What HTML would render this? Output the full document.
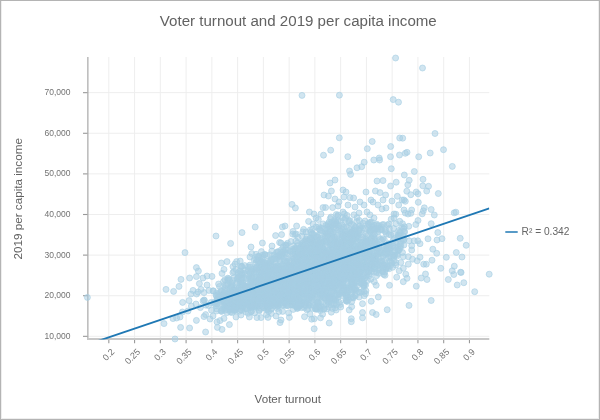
<!DOCTYPE html>
<html><head><meta charset="utf-8"><title>Voter turnout and 2019 per capita income</title>
<style>
html,body{margin:0;padding:0;background:#fff;}
body{width:600px;height:420px;overflow:hidden;font-family:"Liberation Sans",sans-serif;}
#chart{position:absolute;left:0;top:0;width:600px;height:420px;box-sizing:border-box;border:1px solid #b4b4b4;box-shadow:inset 1px 0 0 #eeeeee, inset -1px -1px 0 #eeeeee;}
svg{position:absolute;left:0;top:0;will-change:transform;filter:blur(0.35px);}
svg text{font-family:"Liberation Sans",sans-serif;}
</style></head><body>
<div id="chart"></div>
<svg width="600" height="420" viewBox="0 0 600 420">
<text x="298.3" y="26" text-anchor="middle" font-size="15.1" fill="#626262">Voter turnout and 2019 per capita income</text>
<g><line x1="108.82" y1="57" x2="108.82" y2="338" stroke="#eeeeee" stroke-width="1"/><line x1="134.58" y1="57" x2="134.58" y2="338" stroke="#eeeeee" stroke-width="1"/><line x1="160.34" y1="57" x2="160.34" y2="338" stroke="#eeeeee" stroke-width="1"/><line x1="186.1" y1="57" x2="186.1" y2="338" stroke="#eeeeee" stroke-width="1"/><line x1="211.86" y1="57" x2="211.86" y2="338" stroke="#eeeeee" stroke-width="1"/><line x1="237.61" y1="57" x2="237.61" y2="338" stroke="#eeeeee" stroke-width="1"/><line x1="263.37" y1="57" x2="263.37" y2="338" stroke="#eeeeee" stroke-width="1"/><line x1="289.13" y1="57" x2="289.13" y2="338" stroke="#eeeeee" stroke-width="1"/><line x1="314.89" y1="57" x2="314.89" y2="338" stroke="#eeeeee" stroke-width="1"/><line x1="340.65" y1="57" x2="340.65" y2="338" stroke="#eeeeee" stroke-width="1"/><line x1="366.41" y1="57" x2="366.41" y2="338" stroke="#eeeeee" stroke-width="1"/><line x1="392.17" y1="57" x2="392.17" y2="338" stroke="#eeeeee" stroke-width="1"/><line x1="417.93" y1="57" x2="417.93" y2="338" stroke="#eeeeee" stroke-width="1"/><line x1="443.69" y1="57" x2="443.69" y2="338" stroke="#eeeeee" stroke-width="1"/><line x1="469.45" y1="57" x2="469.45" y2="338" stroke="#eeeeee" stroke-width="1"/><line x1="88" y1="336.33" x2="489.3" y2="336.33" stroke="#eeeeee" stroke-width="1"/><line x1="88" y1="295.72" x2="489.3" y2="295.72" stroke="#eeeeee" stroke-width="1"/><line x1="88" y1="255.11" x2="489.3" y2="255.11" stroke="#eeeeee" stroke-width="1"/><line x1="88" y1="214.5" x2="489.3" y2="214.5" stroke="#eeeeee" stroke-width="1"/><line x1="88" y1="173.89" x2="489.3" y2="173.89" stroke="#eeeeee" stroke-width="1"/><line x1="88" y1="133.28" x2="489.3" y2="133.28" stroke="#eeeeee" stroke-width="1"/><line x1="88" y1="92.67" x2="489.3" y2="92.67" stroke="#eeeeee" stroke-width="1"/></g>
<g><line x1="87.87" y1="57" x2="87.87" y2="339.9" stroke="#a8a8a8" stroke-width="1.2"/><line x1="87.3" y1="338.9" x2="489.3" y2="338.9" stroke="#c8c8c8" stroke-width="2"/><line x1="108.82" y1="339.9" x2="108.82" y2="343.2" stroke="#999999" stroke-width="1.1"/><line x1="134.58" y1="339.9" x2="134.58" y2="343.2" stroke="#999999" stroke-width="1.1"/><line x1="160.34" y1="339.9" x2="160.34" y2="343.2" stroke="#999999" stroke-width="1.1"/><line x1="186.1" y1="339.9" x2="186.1" y2="343.2" stroke="#999999" stroke-width="1.1"/><line x1="211.86" y1="339.9" x2="211.86" y2="343.2" stroke="#999999" stroke-width="1.1"/><line x1="237.61" y1="339.9" x2="237.61" y2="343.2" stroke="#999999" stroke-width="1.1"/><line x1="263.37" y1="339.9" x2="263.37" y2="343.2" stroke="#999999" stroke-width="1.1"/><line x1="289.13" y1="339.9" x2="289.13" y2="343.2" stroke="#999999" stroke-width="1.1"/><line x1="314.89" y1="339.9" x2="314.89" y2="343.2" stroke="#999999" stroke-width="1.1"/><line x1="340.65" y1="339.9" x2="340.65" y2="343.2" stroke="#999999" stroke-width="1.1"/><line x1="366.41" y1="339.9" x2="366.41" y2="343.2" stroke="#999999" stroke-width="1.1"/><line x1="392.17" y1="339.9" x2="392.17" y2="343.2" stroke="#999999" stroke-width="1.1"/><line x1="417.93" y1="339.9" x2="417.93" y2="343.2" stroke="#999999" stroke-width="1.1"/><line x1="443.69" y1="339.9" x2="443.69" y2="343.2" stroke="#999999" stroke-width="1.1"/><line x1="469.45" y1="339.9" x2="469.45" y2="343.2" stroke="#999999" stroke-width="1.1"/><line x1="83" y1="336.33" x2="87.5" y2="336.33" stroke="#999999" stroke-width="1.1"/><line x1="83" y1="295.72" x2="87.5" y2="295.72" stroke="#999999" stroke-width="1.1"/><line x1="83" y1="255.11" x2="87.5" y2="255.11" stroke="#999999" stroke-width="1.1"/><line x1="83" y1="214.5" x2="87.5" y2="214.5" stroke="#999999" stroke-width="1.1"/><line x1="83" y1="173.89" x2="87.5" y2="173.89" stroke="#999999" stroke-width="1.1"/><line x1="83" y1="133.28" x2="87.5" y2="133.28" stroke="#999999" stroke-width="1.1"/><line x1="83" y1="92.67" x2="87.5" y2="92.67" stroke="#999999" stroke-width="1.1"/></g>
<text transform="translate(110.6,348) rotate(-45)" text-anchor="end" font-size="9" fill="#727272" dy="0.7em">0.2</text><text transform="translate(136.4,348) rotate(-45)" text-anchor="end" font-size="9" fill="#727272" dy="0.7em">0.25</text><text transform="translate(162.1,348) rotate(-45)" text-anchor="end" font-size="9" fill="#727272" dy="0.7em">0.3</text><text transform="translate(187.9,348) rotate(-45)" text-anchor="end" font-size="9" fill="#727272" dy="0.7em">0.35</text><text transform="translate(213.7,348) rotate(-45)" text-anchor="end" font-size="9" fill="#727272" dy="0.7em">0.4</text><text transform="translate(239.4,348) rotate(-45)" text-anchor="end" font-size="9" fill="#727272" dy="0.7em">0.45</text><text transform="translate(265.2,348) rotate(-45)" text-anchor="end" font-size="9" fill="#727272" dy="0.7em">0.5</text><text transform="translate(290.9,348) rotate(-45)" text-anchor="end" font-size="9" fill="#727272" dy="0.7em">0.55</text><text transform="translate(316.7,348) rotate(-45)" text-anchor="end" font-size="9" fill="#727272" dy="0.7em">0.6</text><text transform="translate(342.5,348) rotate(-45)" text-anchor="end" font-size="9" fill="#727272" dy="0.7em">0.65</text><text transform="translate(368.2,348) rotate(-45)" text-anchor="end" font-size="9" fill="#727272" dy="0.7em">0.7</text><text transform="translate(394.0,348) rotate(-45)" text-anchor="end" font-size="9" fill="#727272" dy="0.7em">0.75</text><text transform="translate(419.7,348) rotate(-45)" text-anchor="end" font-size="9" fill="#727272" dy="0.7em">0.8</text><text transform="translate(445.5,348) rotate(-45)" text-anchor="end" font-size="9" fill="#727272" dy="0.7em">0.85</text><text transform="translate(471.2,348) rotate(-45)" text-anchor="end" font-size="9" fill="#727272" dy="0.7em">0.9</text><text x="70.5" y="338.7" text-anchor="end" font-size="8.5" fill="#727272">10,000</text><text x="70.5" y="298.1" text-anchor="end" font-size="8.5" fill="#727272">20,000</text><text x="70.5" y="257.5" text-anchor="end" font-size="8.5" fill="#727272">30,000</text><text x="70.5" y="216.9" text-anchor="end" font-size="8.5" fill="#727272">40,000</text><text x="70.5" y="176.3" text-anchor="end" font-size="8.5" fill="#727272">50,000</text><text x="70.5" y="135.7" text-anchor="end" font-size="8.5" fill="#727272">60,000</text><text x="70.5" y="95.1" text-anchor="end" font-size="8.5" fill="#727272">70,000</text>
<text transform="translate(22,198.8) rotate(-90)" text-anchor="middle" font-size="11.7" fill="#616161">2019 per capita income</text>
<text x="287.8" y="403" text-anchor="middle" font-size="11.6" fill="#616161">Voter turnout</text>
<g fill="#a6cee3" fill-opacity="0.52" stroke="#a6cee3" stroke-opacity="0.62" stroke-width="1"><circle cx="224.9" cy="279.7" r="3"/><circle cx="294.4" cy="273.6" r="3"/><circle cx="284.5" cy="298.0" r="3"/><circle cx="319.1" cy="271.5" r="3"/><circle cx="369.9" cy="230.8" r="3"/><circle cx="264.7" cy="270.2" r="3"/><circle cx="236.9" cy="282.8" r="3"/><circle cx="319.7" cy="259.1" r="3"/><circle cx="294.2" cy="289.1" r="3"/><circle cx="357.6" cy="277.6" r="3"/><circle cx="340.3" cy="246.2" r="3"/><circle cx="310.5" cy="291.3" r="3"/><circle cx="343.6" cy="273.8" r="3"/><circle cx="364.3" cy="285.1" r="3"/><circle cx="371.4" cy="238.4" r="3"/><circle cx="321.4" cy="281.9" r="3"/><circle cx="355.7" cy="255.3" r="3"/><circle cx="348.9" cy="248.0" r="3"/><circle cx="343.7" cy="287.9" r="3"/><circle cx="297.7" cy="273.3" r="3"/><circle cx="283.3" cy="250.4" r="3"/><circle cx="284.8" cy="296.0" r="3"/><circle cx="318.6" cy="285.4" r="3"/><circle cx="330.3" cy="218.5" r="3"/><circle cx="285.3" cy="287.1" r="3"/><circle cx="356.5" cy="259.7" r="3"/><circle cx="372.7" cy="228.8" r="3"/><circle cx="279.5" cy="284.8" r="3"/><circle cx="301.9" cy="253.9" r="3"/><circle cx="226.7" cy="304.2" r="3"/><circle cx="334.3" cy="289.5" r="3"/><circle cx="304.8" cy="249.0" r="3"/><circle cx="353.2" cy="265.7" r="3"/><circle cx="347.1" cy="267.0" r="3"/><circle cx="376.4" cy="272.5" r="3"/><circle cx="310.9" cy="280.0" r="3"/><circle cx="320.4" cy="291.9" r="3"/><circle cx="364.0" cy="246.6" r="3"/><circle cx="268.0" cy="275.5" r="3"/><circle cx="316.6" cy="261.6" r="3"/><circle cx="314.0" cy="281.0" r="3"/><circle cx="281.5" cy="293.3" r="3"/><circle cx="364.6" cy="278.3" r="3"/><circle cx="302.2" cy="251.2" r="3"/><circle cx="274.1" cy="267.1" r="3"/><circle cx="296.2" cy="278.4" r="3"/><circle cx="295.2" cy="287.4" r="3"/><circle cx="305.0" cy="269.8" r="3"/><circle cx="314.1" cy="237.8" r="3"/><circle cx="246.0" cy="294.8" r="3"/><circle cx="245.6" cy="286.4" r="3"/><circle cx="287.2" cy="294.5" r="3"/><circle cx="371.5" cy="265.1" r="3"/><circle cx="301.5" cy="243.8" r="3"/><circle cx="320.3" cy="261.9" r="3"/><circle cx="325.8" cy="294.2" r="3"/><circle cx="291.3" cy="286.7" r="3"/><circle cx="330.8" cy="243.8" r="3"/><circle cx="363.0" cy="252.9" r="3"/><circle cx="264.3" cy="276.9" r="3"/><circle cx="333.6" cy="254.9" r="3"/><circle cx="301.9" cy="265.2" r="3"/><circle cx="319.9" cy="281.8" r="3"/><circle cx="240.5" cy="303.4" r="3"/><circle cx="342.0" cy="256.2" r="3"/><circle cx="250.1" cy="306.7" r="3"/><circle cx="388.8" cy="224.0" r="3"/><circle cx="312.6" cy="308.4" r="3"/><circle cx="306.9" cy="236.8" r="3"/><circle cx="258.5" cy="291.0" r="3"/><circle cx="323.6" cy="248.9" r="3"/><circle cx="324.4" cy="241.5" r="3"/><circle cx="370.5" cy="256.9" r="3"/><circle cx="262.2" cy="275.1" r="3"/><circle cx="269.9" cy="276.9" r="3"/><circle cx="352.1" cy="278.3" r="3"/><circle cx="255.9" cy="259.8" r="3"/><circle cx="272.1" cy="288.9" r="3"/><circle cx="251.3" cy="289.4" r="3"/><circle cx="341.0" cy="263.1" r="3"/><circle cx="314.5" cy="271.0" r="3"/><circle cx="319.7" cy="267.0" r="3"/><circle cx="284.9" cy="302.9" r="3"/><circle cx="296.4" cy="281.7" r="3"/><circle cx="252.9" cy="304.6" r="3"/><circle cx="306.2" cy="264.5" r="3"/><circle cx="333.1" cy="284.2" r="3"/><circle cx="293.4" cy="288.9" r="3"/><circle cx="244.7" cy="300.6" r="3"/><circle cx="301.3" cy="276.2" r="3"/><circle cx="248.1" cy="293.6" r="3"/><circle cx="352.6" cy="238.2" r="3"/><circle cx="351.0" cy="233.3" r="3"/><circle cx="259.9" cy="288.9" r="3"/><circle cx="311.8" cy="291.7" r="3"/><circle cx="285.0" cy="253.0" r="3"/><circle cx="250.6" cy="281.9" r="3"/><circle cx="290.9" cy="252.1" r="3"/><circle cx="292.1" cy="297.3" r="3"/><circle cx="301.3" cy="261.6" r="3"/><circle cx="318.8" cy="226.7" r="3"/><circle cx="359.3" cy="275.5" r="3"/><circle cx="294.7" cy="278.0" r="3"/><circle cx="267.8" cy="282.6" r="3"/><circle cx="260.9" cy="299.4" r="3"/><circle cx="317.4" cy="278.6" r="3"/><circle cx="336.0" cy="274.0" r="3"/><circle cx="366.4" cy="255.8" r="3"/><circle cx="302.7" cy="269.7" r="3"/><circle cx="249.9" cy="265.1" r="3"/><circle cx="302.2" cy="281.2" r="3"/><circle cx="306.1" cy="293.6" r="3"/><circle cx="256.9" cy="288.9" r="3"/><circle cx="335.0" cy="243.3" r="3"/><circle cx="318.6" cy="259.4" r="3"/><circle cx="272.6" cy="285.2" r="3"/><circle cx="281.0" cy="279.8" r="3"/><circle cx="248.3" cy="271.2" r="3"/><circle cx="264.4" cy="278.5" r="3"/><circle cx="296.3" cy="272.0" r="3"/><circle cx="343.3" cy="240.8" r="3"/><circle cx="312.8" cy="254.6" r="3"/><circle cx="311.7" cy="275.7" r="3"/><circle cx="346.3" cy="274.4" r="3"/><circle cx="277.4" cy="308.4" r="3"/><circle cx="339.2" cy="266.8" r="3"/><circle cx="305.9" cy="282.9" r="3"/><circle cx="257.9" cy="304.9" r="3"/><circle cx="382.9" cy="238.8" r="3"/><circle cx="281.1" cy="292.2" r="3"/><circle cx="330.7" cy="284.7" r="3"/><circle cx="306.3" cy="272.6" r="3"/><circle cx="271.8" cy="283.8" r="3"/><circle cx="293.9" cy="290.5" r="3"/><circle cx="283.1" cy="294.5" r="3"/><circle cx="334.4" cy="271.9" r="3"/><circle cx="283.7" cy="283.0" r="3"/><circle cx="301.3" cy="292.4" r="3"/><circle cx="357.8" cy="242.7" r="3"/><circle cx="317.6" cy="256.1" r="3"/><circle cx="329.6" cy="270.7" r="3"/><circle cx="404.4" cy="226.8" r="3"/><circle cx="277.7" cy="305.4" r="3"/><circle cx="232.4" cy="309.3" r="3"/><circle cx="336.8" cy="251.4" r="3"/><circle cx="268.6" cy="311.4" r="3"/><circle cx="316.4" cy="249.5" r="3"/><circle cx="291.7" cy="277.0" r="3"/><circle cx="331.4" cy="272.6" r="3"/><circle cx="351.5" cy="255.8" r="3"/><circle cx="316.9" cy="270.0" r="3"/><circle cx="251.4" cy="311.6" r="3"/><circle cx="348.2" cy="244.9" r="3"/><circle cx="314.6" cy="273.5" r="3"/><circle cx="304.7" cy="249.6" r="3"/><circle cx="340.0" cy="286.4" r="3"/><circle cx="235.0" cy="290.3" r="3"/><circle cx="303.2" cy="267.2" r="3"/><circle cx="292.5" cy="293.4" r="3"/><circle cx="254.9" cy="302.9" r="3"/><circle cx="293.0" cy="285.8" r="3"/><circle cx="315.6" cy="250.8" r="3"/><circle cx="384.7" cy="272.1" r="3"/><circle cx="359.7" cy="258.9" r="3"/><circle cx="295.5" cy="297.2" r="3"/><circle cx="342.1" cy="258.6" r="3"/><circle cx="240.9" cy="266.5" r="3"/><circle cx="322.0" cy="276.5" r="3"/><circle cx="324.6" cy="257.0" r="3"/><circle cx="287.0" cy="289.0" r="3"/><circle cx="339.9" cy="231.3" r="3"/><circle cx="365.4" cy="269.0" r="3"/><circle cx="278.2" cy="269.2" r="3"/><circle cx="227.7" cy="284.3" r="3"/><circle cx="259.1" cy="311.1" r="3"/><circle cx="275.2" cy="268.4" r="3"/><circle cx="285.0" cy="271.8" r="3"/><circle cx="325.1" cy="283.3" r="3"/><circle cx="309.2" cy="270.9" r="3"/><circle cx="321.8" cy="274.0" r="3"/><circle cx="279.2" cy="283.6" r="3"/><circle cx="324.7" cy="272.9" r="3"/><circle cx="334.8" cy="268.3" r="3"/><circle cx="357.2" cy="262.2" r="3"/><circle cx="354.2" cy="283.0" r="3"/><circle cx="279.1" cy="265.9" r="3"/><circle cx="245.9" cy="287.4" r="3"/><circle cx="314.6" cy="290.8" r="3"/><circle cx="351.0" cy="235.4" r="3"/><circle cx="288.4" cy="258.7" r="3"/><circle cx="277.9" cy="295.8" r="3"/><circle cx="326.9" cy="262.9" r="3"/><circle cx="314.5" cy="288.0" r="3"/><circle cx="323.9" cy="262.1" r="3"/><circle cx="288.3" cy="265.1" r="3"/><circle cx="370.0" cy="231.6" r="3"/><circle cx="356.3" cy="249.1" r="3"/><circle cx="295.5" cy="299.3" r="3"/><circle cx="268.5" cy="290.6" r="3"/><circle cx="301.5" cy="307.7" r="3"/><circle cx="302.3" cy="245.2" r="3"/><circle cx="227.1" cy="309.4" r="3"/><circle cx="344.4" cy="213.8" r="3"/><circle cx="276.5" cy="294.0" r="3"/><circle cx="221.6" cy="311.4" r="3"/><circle cx="273.4" cy="295.0" r="3"/><circle cx="309.6" cy="289.2" r="3"/><circle cx="386.3" cy="233.7" r="3"/><circle cx="365.8" cy="258.6" r="3"/><circle cx="326.3" cy="257.0" r="3"/><circle cx="327.3" cy="255.9" r="3"/><circle cx="278.7" cy="288.9" r="3"/><circle cx="360.4" cy="278.3" r="3"/><circle cx="265.9" cy="263.0" r="3"/><circle cx="301.4" cy="287.6" r="3"/><circle cx="307.9" cy="254.2" r="3"/><circle cx="324.2" cy="257.2" r="3"/><circle cx="251.9" cy="306.8" r="3"/><circle cx="320.0" cy="291.3" r="3"/><circle cx="303.4" cy="291.2" r="3"/><circle cx="308.3" cy="264.3" r="3"/><circle cx="265.1" cy="290.0" r="3"/><circle cx="296.4" cy="289.1" r="3"/><circle cx="318.4" cy="288.1" r="3"/><circle cx="336.4" cy="268.1" r="3"/><circle cx="376.6" cy="263.8" r="3"/><circle cx="288.9" cy="267.0" r="3"/><circle cx="281.1" cy="299.3" r="3"/><circle cx="343.0" cy="283.2" r="3"/><circle cx="295.5" cy="294.9" r="3"/><circle cx="290.7" cy="270.7" r="3"/><circle cx="343.0" cy="277.9" r="3"/><circle cx="361.3" cy="243.3" r="3"/><circle cx="346.0" cy="288.2" r="3"/><circle cx="334.5" cy="284.8" r="3"/><circle cx="213.3" cy="290.8" r="3"/><circle cx="253.6" cy="286.4" r="3"/><circle cx="296.5" cy="280.7" r="3"/><circle cx="311.1" cy="286.9" r="3"/><circle cx="370.7" cy="229.7" r="3"/><circle cx="299.0" cy="263.1" r="3"/><circle cx="299.8" cy="248.1" r="3"/><circle cx="397.8" cy="241.5" r="3"/><circle cx="282.8" cy="282.1" r="3"/><circle cx="363.8" cy="284.5" r="3"/><circle cx="276.3" cy="268.3" r="3"/><circle cx="260.1" cy="289.5" r="3"/><circle cx="292.5" cy="267.3" r="3"/><circle cx="279.2" cy="293.5" r="3"/><circle cx="287.7" cy="292.4" r="3"/><circle cx="292.7" cy="304.1" r="3"/><circle cx="257.7" cy="285.1" r="3"/><circle cx="386.5" cy="253.3" r="3"/><circle cx="326.8" cy="229.9" r="3"/><circle cx="323.0" cy="290.0" r="3"/><circle cx="280.2" cy="280.8" r="3"/><circle cx="299.3" cy="300.7" r="3"/><circle cx="304.7" cy="290.1" r="3"/><circle cx="362.9" cy="276.7" r="3"/><circle cx="276.8" cy="299.6" r="3"/><circle cx="329.0" cy="222.2" r="3"/><circle cx="290.1" cy="297.0" r="3"/><circle cx="243.4" cy="288.8" r="3"/><circle cx="331.5" cy="271.8" r="3"/><circle cx="264.2" cy="274.2" r="3"/><circle cx="283.9" cy="282.7" r="3"/><circle cx="293.8" cy="294.2" r="3"/><circle cx="258.2" cy="292.0" r="3"/><circle cx="341.2" cy="252.8" r="3"/><circle cx="251.8" cy="253.6" r="3"/><circle cx="242.5" cy="282.6" r="3"/><circle cx="240.9" cy="289.1" r="3"/><circle cx="310.7" cy="262.3" r="3"/><circle cx="270.6" cy="297.0" r="3"/><circle cx="325.9" cy="284.4" r="3"/><circle cx="326.5" cy="279.1" r="3"/><circle cx="349.4" cy="241.2" r="3"/><circle cx="296.5" cy="256.6" r="3"/><circle cx="385.8" cy="230.5" r="3"/><circle cx="312.0" cy="272.6" r="3"/><circle cx="305.0" cy="265.5" r="3"/><circle cx="361.2" cy="248.0" r="3"/><circle cx="312.2" cy="282.4" r="3"/><circle cx="318.3" cy="290.8" r="3"/><circle cx="321.2" cy="279.5" r="3"/><circle cx="302.5" cy="291.0" r="3"/><circle cx="301.9" cy="260.1" r="3"/><circle cx="353.2" cy="250.0" r="3"/><circle cx="247.7" cy="293.2" r="3"/><circle cx="375.3" cy="260.7" r="3"/><circle cx="329.0" cy="280.9" r="3"/><circle cx="363.3" cy="239.2" r="3"/><circle cx="324.9" cy="283.0" r="3"/><circle cx="314.7" cy="274.9" r="3"/><circle cx="227.1" cy="303.2" r="3"/><circle cx="253.4" cy="281.4" r="3"/><circle cx="372.4" cy="254.0" r="3"/><circle cx="285.4" cy="265.6" r="3"/><circle cx="251.7" cy="306.1" r="3"/><circle cx="348.5" cy="275.8" r="3"/><circle cx="252.7" cy="302.6" r="3"/><circle cx="256.4" cy="301.3" r="3"/><circle cx="247.8" cy="303.3" r="3"/><circle cx="229.7" cy="292.7" r="3"/><circle cx="280.4" cy="293.8" r="3"/><circle cx="272.1" cy="289.9" r="3"/><circle cx="284.6" cy="260.6" r="3"/><circle cx="361.1" cy="246.3" r="3"/><circle cx="368.7" cy="271.8" r="3"/><circle cx="350.3" cy="258.7" r="3"/><circle cx="356.9" cy="261.5" r="3"/><circle cx="332.5" cy="234.1" r="3"/><circle cx="311.0" cy="270.5" r="3"/><circle cx="351.9" cy="231.5" r="3"/><circle cx="284.5" cy="302.4" r="3"/><circle cx="329.0" cy="285.8" r="3"/><circle cx="312.9" cy="272.3" r="3"/><circle cx="339.8" cy="254.4" r="3"/><circle cx="379.7" cy="262.6" r="3"/><circle cx="260.9" cy="295.7" r="3"/><circle cx="365.8" cy="249.8" r="3"/><circle cx="265.5" cy="279.1" r="3"/><circle cx="317.8" cy="289.1" r="3"/><circle cx="274.1" cy="258.8" r="3"/><circle cx="273.2" cy="292.5" r="3"/><circle cx="255.1" cy="270.3" r="3"/><circle cx="318.3" cy="283.1" r="3"/><circle cx="284.1" cy="273.0" r="3"/><circle cx="389.0" cy="234.5" r="3"/><circle cx="271.9" cy="290.8" r="3"/><circle cx="264.3" cy="307.7" r="3"/><circle cx="312.7" cy="294.9" r="3"/><circle cx="335.5" cy="271.1" r="3"/><circle cx="274.4" cy="282.4" r="3"/><circle cx="318.2" cy="286.9" r="3"/><circle cx="309.6" cy="284.9" r="3"/><circle cx="346.9" cy="275.9" r="3"/><circle cx="316.2" cy="257.9" r="3"/><circle cx="266.4" cy="267.7" r="3"/><circle cx="313.2" cy="267.6" r="3"/><circle cx="356.2" cy="234.6" r="3"/><circle cx="322.2" cy="247.9" r="3"/><circle cx="245.7" cy="292.4" r="3"/><circle cx="354.6" cy="289.5" r="3"/><circle cx="322.4" cy="253.3" r="3"/><circle cx="302.3" cy="243.1" r="3"/><circle cx="282.8" cy="294.1" r="3"/><circle cx="363.4" cy="285.8" r="3"/><circle cx="329.2" cy="263.3" r="3"/><circle cx="287.8" cy="291.3" r="3"/><circle cx="337.1" cy="251.9" r="3"/><circle cx="337.0" cy="243.4" r="3"/><circle cx="340.4" cy="282.4" r="3"/><circle cx="371.4" cy="261.7" r="3"/><circle cx="280.7" cy="285.8" r="3"/><circle cx="375.0" cy="246.8" r="3"/><circle cx="289.4" cy="289.0" r="3"/><circle cx="336.1" cy="254.1" r="3"/><circle cx="350.4" cy="242.5" r="3"/><circle cx="367.9" cy="247.5" r="3"/><circle cx="373.4" cy="266.8" r="3"/><circle cx="332.5" cy="273.2" r="3"/><circle cx="231.3" cy="292.1" r="3"/><circle cx="268.2" cy="286.5" r="3"/><circle cx="283.0" cy="301.8" r="3"/><circle cx="302.2" cy="281.5" r="3"/><circle cx="302.0" cy="262.4" r="3"/><circle cx="327.9" cy="247.4" r="3"/><circle cx="305.3" cy="258.4" r="3"/><circle cx="347.8" cy="296.9" r="3"/><circle cx="347.0" cy="251.7" r="3"/><circle cx="248.6" cy="294.5" r="3"/><circle cx="402.9" cy="235.3" r="3"/><circle cx="246.6" cy="297.0" r="3"/><circle cx="344.4" cy="232.3" r="3"/><circle cx="255.4" cy="298.2" r="3"/><circle cx="300.7" cy="266.2" r="3"/><circle cx="321.0" cy="301.6" r="3"/><circle cx="304.4" cy="284.8" r="3"/><circle cx="268.2" cy="274.3" r="3"/><circle cx="287.0" cy="268.2" r="3"/><circle cx="387.5" cy="253.7" r="3"/><circle cx="313.8" cy="277.1" r="3"/><circle cx="336.9" cy="270.7" r="3"/><circle cx="267.7" cy="268.5" r="3"/><circle cx="295.6" cy="278.2" r="3"/><circle cx="323.0" cy="296.3" r="3"/><circle cx="376.5" cy="275.7" r="3"/><circle cx="298.1" cy="237.4" r="3"/><circle cx="362.0" cy="269.2" r="3"/><circle cx="258.6" cy="279.3" r="3"/><circle cx="358.2" cy="264.8" r="3"/><circle cx="279.5" cy="285.1" r="3"/><circle cx="256.0" cy="254.3" r="3"/><circle cx="258.9" cy="300.0" r="3"/><circle cx="346.9" cy="259.9" r="3"/><circle cx="266.1" cy="284.8" r="3"/><circle cx="303.7" cy="251.8" r="3"/><circle cx="268.9" cy="301.6" r="3"/><circle cx="267.4" cy="286.4" r="3"/><circle cx="360.3" cy="228.5" r="3"/><circle cx="289.7" cy="277.6" r="3"/><circle cx="303.0" cy="283.5" r="3"/><circle cx="303.1" cy="284.8" r="3"/><circle cx="276.2" cy="299.3" r="3"/><circle cx="230.1" cy="301.2" r="3"/><circle cx="225.3" cy="296.8" r="3"/><circle cx="358.9" cy="272.9" r="3"/><circle cx="262.0" cy="295.0" r="3"/><circle cx="269.9" cy="294.6" r="3"/><circle cx="298.5" cy="289.2" r="3"/><circle cx="274.7" cy="273.8" r="3"/><circle cx="255.2" cy="290.9" r="3"/><circle cx="392.6" cy="245.7" r="3"/><circle cx="335.1" cy="268.9" r="3"/><circle cx="319.3" cy="270.1" r="3"/><circle cx="374.5" cy="268.7" r="3"/><circle cx="249.8" cy="294.5" r="3"/><circle cx="266.3" cy="266.0" r="3"/><circle cx="280.0" cy="297.0" r="3"/><circle cx="257.0" cy="276.8" r="3"/><circle cx="356.8" cy="263.9" r="3"/><circle cx="347.2" cy="262.1" r="3"/><circle cx="324.2" cy="250.4" r="3"/><circle cx="282.8" cy="282.8" r="3"/><circle cx="326.1" cy="252.0" r="3"/><circle cx="316.1" cy="258.5" r="3"/><circle cx="350.7" cy="254.2" r="3"/><circle cx="246.5" cy="302.8" r="3"/><circle cx="270.8" cy="289.8" r="3"/><circle cx="365.1" cy="256.4" r="3"/><circle cx="226.2" cy="291.0" r="3"/><circle cx="241.8" cy="307.6" r="3"/><circle cx="360.0" cy="245.6" r="3"/><circle cx="322.6" cy="253.4" r="3"/><circle cx="268.0" cy="293.3" r="3"/><circle cx="245.5" cy="285.8" r="3"/><circle cx="307.0" cy="250.6" r="3"/><circle cx="259.4" cy="303.0" r="3"/><circle cx="306.2" cy="261.4" r="3"/><circle cx="308.4" cy="252.1" r="3"/><circle cx="218.9" cy="297.9" r="3"/><circle cx="226.0" cy="285.4" r="3"/><circle cx="374.0" cy="225.3" r="3"/><circle cx="314.2" cy="281.4" r="3"/><circle cx="281.6" cy="271.9" r="3"/><circle cx="382.2" cy="224.8" r="3"/><circle cx="268.8" cy="291.8" r="3"/><circle cx="230.6" cy="300.5" r="3"/><circle cx="350.8" cy="238.8" r="3"/><circle cx="300.1" cy="269.7" r="3"/><circle cx="219.5" cy="286.5" r="3"/><circle cx="371.8" cy="271.1" r="3"/><circle cx="330.0" cy="253.2" r="3"/><circle cx="282.9" cy="293.2" r="3"/><circle cx="294.1" cy="289.2" r="3"/><circle cx="284.9" cy="288.4" r="3"/><circle cx="297.7" cy="296.8" r="3"/><circle cx="331.2" cy="230.7" r="3"/><circle cx="297.7" cy="288.6" r="3"/><circle cx="303.8" cy="274.8" r="3"/><circle cx="301.9" cy="270.4" r="3"/><circle cx="337.9" cy="259.8" r="3"/><circle cx="365.7" cy="233.6" r="3"/><circle cx="322.7" cy="281.2" r="3"/><circle cx="336.2" cy="284.1" r="3"/><circle cx="344.2" cy="256.5" r="3"/><circle cx="359.2" cy="220.5" r="3"/><circle cx="317.3" cy="283.0" r="3"/><circle cx="267.6" cy="298.9" r="3"/><circle cx="270.0" cy="254.8" r="3"/><circle cx="244.7" cy="265.6" r="3"/><circle cx="281.9" cy="269.0" r="3"/><circle cx="314.8" cy="246.7" r="3"/><circle cx="306.8" cy="284.2" r="3"/><circle cx="228.9" cy="293.5" r="3"/><circle cx="283.7" cy="279.1" r="3"/><circle cx="286.8" cy="272.1" r="3"/><circle cx="346.3" cy="243.1" r="3"/><circle cx="265.2" cy="301.0" r="3"/><circle cx="304.7" cy="258.5" r="3"/><circle cx="331.1" cy="300.0" r="3"/><circle cx="291.4" cy="268.1" r="3"/><circle cx="272.3" cy="269.3" r="3"/><circle cx="305.9" cy="269.1" r="3"/><circle cx="335.5" cy="286.2" r="3"/><circle cx="250.9" cy="291.7" r="3"/><circle cx="288.6" cy="312.9" r="3"/><circle cx="393.2" cy="246.1" r="3"/><circle cx="271.5" cy="279.3" r="3"/><circle cx="268.2" cy="279.3" r="3"/><circle cx="350.8" cy="287.2" r="3"/><circle cx="288.6" cy="270.6" r="3"/><circle cx="367.1" cy="262.2" r="3"/><circle cx="339.5" cy="275.4" r="3"/><circle cx="355.4" cy="265.8" r="3"/><circle cx="266.9" cy="304.1" r="3"/><circle cx="340.0" cy="258.5" r="3"/><circle cx="262.9" cy="269.9" r="3"/><circle cx="262.6" cy="294.1" r="3"/><circle cx="386.0" cy="269.0" r="3"/><circle cx="304.5" cy="266.1" r="3"/><circle cx="298.7" cy="269.6" r="3"/><circle cx="346.9" cy="241.3" r="3"/><circle cx="343.1" cy="279.0" r="3"/><circle cx="357.0" cy="217.6" r="3"/><circle cx="313.9" cy="252.9" r="3"/><circle cx="354.0" cy="275.3" r="3"/><circle cx="385.8" cy="268.4" r="3"/><circle cx="262.6" cy="256.8" r="3"/><circle cx="336.9" cy="248.4" r="3"/><circle cx="302.6" cy="280.8" r="3"/><circle cx="311.6" cy="295.5" r="3"/><circle cx="289.0" cy="290.1" r="3"/><circle cx="336.9" cy="282.6" r="3"/><circle cx="216.1" cy="295.3" r="3"/><circle cx="287.5" cy="243.3" r="3"/><circle cx="382.8" cy="268.0" r="3"/><circle cx="312.3" cy="273.8" r="3"/><circle cx="301.4" cy="302.8" r="3"/><circle cx="231.7" cy="297.1" r="3"/><circle cx="278.3" cy="282.1" r="3"/><circle cx="349.1" cy="277.7" r="3"/><circle cx="239.2" cy="305.0" r="3"/><circle cx="264.7" cy="294.3" r="3"/><circle cx="318.3" cy="246.7" r="3"/><circle cx="319.0" cy="271.1" r="3"/><circle cx="299.8" cy="259.3" r="3"/><circle cx="316.0" cy="266.9" r="3"/><circle cx="362.6" cy="250.1" r="3"/><circle cx="314.9" cy="291.1" r="3"/><circle cx="369.5" cy="265.9" r="3"/><circle cx="301.4" cy="292.5" r="3"/><circle cx="260.4" cy="293.8" r="3"/><circle cx="306.4" cy="258.4" r="3"/><circle cx="269.5" cy="291.5" r="3"/><circle cx="312.4" cy="288.1" r="3"/><circle cx="297.6" cy="305.5" r="3"/><circle cx="345.6" cy="234.7" r="3"/><circle cx="323.4" cy="301.9" r="3"/><circle cx="378.6" cy="225.8" r="3"/><circle cx="351.6" cy="277.4" r="3"/><circle cx="263.2" cy="289.9" r="3"/><circle cx="287.0" cy="292.3" r="3"/><circle cx="366.9" cy="245.4" r="3"/><circle cx="276.0" cy="290.8" r="3"/><circle cx="364.6" cy="243.9" r="3"/><circle cx="245.5" cy="298.2" r="3"/><circle cx="271.9" cy="293.1" r="3"/><circle cx="347.1" cy="291.4" r="3"/><circle cx="295.1" cy="249.3" r="3"/><circle cx="311.6" cy="287.1" r="3"/><circle cx="356.9" cy="221.4" r="3"/><circle cx="322.0" cy="258.4" r="3"/><circle cx="310.9" cy="269.1" r="3"/><circle cx="258.9" cy="256.5" r="3"/><circle cx="332.7" cy="253.8" r="3"/><circle cx="315.0" cy="254.6" r="3"/><circle cx="282.1" cy="289.9" r="3"/><circle cx="280.8" cy="292.1" r="3"/><circle cx="264.3" cy="262.5" r="3"/><circle cx="340.8" cy="274.1" r="3"/><circle cx="328.4" cy="275.9" r="3"/><circle cx="322.1" cy="294.1" r="3"/><circle cx="343.6" cy="263.3" r="3"/><circle cx="348.8" cy="220.7" r="3"/><circle cx="340.8" cy="221.4" r="3"/><circle cx="285.0" cy="303.0" r="3"/><circle cx="243.1" cy="294.4" r="3"/><circle cx="302.0" cy="236.1" r="3"/><circle cx="383.5" cy="224.5" r="3"/><circle cx="350.1" cy="220.7" r="3"/><circle cx="269.1" cy="263.6" r="3"/><circle cx="300.9" cy="263.3" r="3"/><circle cx="264.1" cy="292.8" r="3"/><circle cx="272.0" cy="298.5" r="3"/><circle cx="398.1" cy="250.7" r="3"/><circle cx="285.1" cy="260.9" r="3"/><circle cx="269.5" cy="273.7" r="3"/><circle cx="367.9" cy="254.0" r="3"/><circle cx="325.2" cy="251.2" r="3"/><circle cx="217.3" cy="299.7" r="3"/><circle cx="372.4" cy="241.3" r="3"/><circle cx="266.8" cy="291.1" r="3"/><circle cx="338.6" cy="264.9" r="3"/><circle cx="252.4" cy="270.8" r="3"/><circle cx="252.5" cy="303.1" r="3"/><circle cx="273.5" cy="288.1" r="3"/><circle cx="390.1" cy="261.2" r="3"/><circle cx="272.8" cy="283.6" r="3"/><circle cx="249.9" cy="295.7" r="3"/><circle cx="307.0" cy="261.2" r="3"/><circle cx="250.3" cy="307.4" r="3"/><circle cx="348.4" cy="255.2" r="3"/><circle cx="324.0" cy="260.2" r="3"/><circle cx="269.7" cy="295.5" r="3"/><circle cx="344.3" cy="249.8" r="3"/><circle cx="255.2" cy="285.2" r="3"/><circle cx="345.9" cy="226.2" r="3"/><circle cx="308.4" cy="251.1" r="3"/><circle cx="335.6" cy="263.8" r="3"/><circle cx="230.9" cy="286.7" r="3"/><circle cx="244.7" cy="298.8" r="3"/><circle cx="324.5" cy="277.9" r="3"/><circle cx="272.3" cy="294.4" r="3"/><circle cx="256.2" cy="267.0" r="3"/><circle cx="254.9" cy="306.4" r="3"/><circle cx="284.2" cy="292.5" r="3"/><circle cx="264.2" cy="272.0" r="3"/><circle cx="305.5" cy="278.9" r="3"/><circle cx="219.5" cy="296.2" r="3"/><circle cx="343.2" cy="275.1" r="3"/><circle cx="336.0" cy="285.2" r="3"/><circle cx="372.2" cy="243.9" r="3"/><circle cx="307.9" cy="282.3" r="3"/><circle cx="370.2" cy="222.6" r="3"/><circle cx="290.8" cy="281.8" r="3"/><circle cx="289.6" cy="279.4" r="3"/><circle cx="322.9" cy="276.6" r="3"/><circle cx="379.2" cy="269.8" r="3"/><circle cx="342.2" cy="257.2" r="3"/><circle cx="327.0" cy="278.5" r="3"/><circle cx="309.0" cy="250.9" r="3"/><circle cx="267.0" cy="293.9" r="3"/><circle cx="260.5" cy="267.4" r="3"/><circle cx="288.6" cy="265.5" r="3"/><circle cx="346.9" cy="295.5" r="3"/><circle cx="350.8" cy="268.9" r="3"/><circle cx="286.6" cy="278.5" r="3"/><circle cx="360.7" cy="242.0" r="3"/><circle cx="228.4" cy="306.9" r="3"/><circle cx="287.5" cy="291.3" r="3"/><circle cx="350.4" cy="266.9" r="3"/><circle cx="374.3" cy="242.5" r="3"/><circle cx="280.3" cy="256.8" r="3"/><circle cx="350.5" cy="263.2" r="3"/><circle cx="284.3" cy="289.8" r="3"/><circle cx="293.3" cy="287.7" r="3"/><circle cx="370.0" cy="214.9" r="3"/><circle cx="294.2" cy="258.7" r="3"/><circle cx="323.4" cy="272.8" r="3"/><circle cx="258.1" cy="299.1" r="3"/><circle cx="251.1" cy="304.9" r="3"/><circle cx="346.4" cy="265.7" r="3"/><circle cx="344.4" cy="256.2" r="3"/><circle cx="353.8" cy="230.6" r="3"/><circle cx="312.2" cy="294.0" r="3"/><circle cx="359.0" cy="251.9" r="3"/><circle cx="345.8" cy="235.5" r="3"/><circle cx="290.7" cy="287.5" r="3"/><circle cx="317.1" cy="263.7" r="3"/><circle cx="300.2" cy="267.7" r="3"/><circle cx="334.3" cy="237.1" r="3"/><circle cx="320.1" cy="246.2" r="3"/><circle cx="244.3" cy="302.6" r="3"/><circle cx="320.3" cy="288.4" r="3"/><circle cx="355.5" cy="228.0" r="3"/><circle cx="277.7" cy="265.9" r="3"/><circle cx="357.2" cy="241.0" r="3"/><circle cx="320.4" cy="291.1" r="3"/><circle cx="322.6" cy="314.2" r="3"/><circle cx="274.8" cy="303.4" r="3"/><circle cx="204.4" cy="300.4" r="3"/><circle cx="265.0" cy="278.3" r="3"/><circle cx="352.0" cy="282.6" r="3"/><circle cx="251.5" cy="289.9" r="3"/><circle cx="305.6" cy="293.6" r="3"/><circle cx="350.7" cy="282.8" r="3"/><circle cx="289.0" cy="270.8" r="3"/><circle cx="304.3" cy="283.9" r="3"/><circle cx="367.8" cy="272.1" r="3"/><circle cx="263.5" cy="296.0" r="3"/><circle cx="331.7" cy="277.3" r="3"/><circle cx="326.5" cy="271.4" r="3"/><circle cx="299.4" cy="306.4" r="3"/><circle cx="242.3" cy="274.8" r="3"/><circle cx="385.3" cy="263.2" r="3"/><circle cx="334.2" cy="299.0" r="3"/><circle cx="347.1" cy="284.4" r="3"/><circle cx="327.2" cy="267.0" r="3"/><circle cx="264.8" cy="296.8" r="3"/><circle cx="269.1" cy="299.8" r="3"/><circle cx="241.8" cy="287.0" r="3"/><circle cx="251.2" cy="311.6" r="3"/><circle cx="334.7" cy="266.5" r="3"/><circle cx="340.8" cy="279.0" r="3"/><circle cx="358.5" cy="274.4" r="3"/><circle cx="270.6" cy="300.4" r="3"/><circle cx="260.3" cy="308.2" r="3"/><circle cx="320.6" cy="271.1" r="3"/><circle cx="258.1" cy="295.3" r="3"/><circle cx="294.9" cy="298.1" r="3"/><circle cx="320.1" cy="272.0" r="3"/><circle cx="303.9" cy="294.1" r="3"/><circle cx="290.2" cy="251.0" r="3"/><circle cx="255.6" cy="306.1" r="3"/><circle cx="375.4" cy="260.4" r="3"/><circle cx="290.5" cy="271.0" r="3"/><circle cx="344.5" cy="219.7" r="3"/><circle cx="259.4" cy="310.1" r="3"/><circle cx="277.9" cy="252.1" r="3"/><circle cx="236.5" cy="306.5" r="3"/><circle cx="253.0" cy="305.8" r="3"/><circle cx="357.0" cy="260.9" r="3"/><circle cx="305.6" cy="287.1" r="3"/><circle cx="267.7" cy="289.3" r="3"/><circle cx="306.6" cy="294.1" r="3"/><circle cx="335.1" cy="252.4" r="3"/><circle cx="258.0" cy="303.1" r="3"/><circle cx="375.5" cy="264.8" r="3"/><circle cx="319.6" cy="284.1" r="3"/><circle cx="250.3" cy="295.8" r="3"/><circle cx="332.9" cy="249.8" r="3"/><circle cx="215.1" cy="304.1" r="3"/><circle cx="255.6" cy="277.5" r="3"/><circle cx="326.0" cy="292.4" r="3"/><circle cx="306.4" cy="291.1" r="3"/><circle cx="301.3" cy="298.1" r="3"/><circle cx="353.7" cy="225.7" r="3"/><circle cx="302.3" cy="268.6" r="3"/><circle cx="300.4" cy="261.8" r="3"/><circle cx="259.6" cy="264.8" r="3"/><circle cx="303.3" cy="274.3" r="3"/><circle cx="226.4" cy="306.9" r="3"/><circle cx="330.2" cy="256.7" r="3"/><circle cx="264.2" cy="271.1" r="3"/><circle cx="293.9" cy="279.6" r="3"/><circle cx="302.0" cy="256.1" r="3"/><circle cx="295.3" cy="295.2" r="3"/><circle cx="277.0" cy="289.6" r="3"/><circle cx="344.2" cy="292.2" r="3"/><circle cx="352.3" cy="247.8" r="3"/><circle cx="275.4" cy="301.1" r="3"/><circle cx="234.3" cy="288.5" r="3"/><circle cx="328.2" cy="224.0" r="3"/><circle cx="314.1" cy="284.9" r="3"/><circle cx="301.8" cy="282.0" r="3"/><circle cx="301.3" cy="254.8" r="3"/><circle cx="344.2" cy="263.5" r="3"/><circle cx="269.4" cy="305.5" r="3"/><circle cx="322.5" cy="263.5" r="3"/><circle cx="319.5" cy="286.8" r="3"/><circle cx="313.9" cy="255.3" r="3"/><circle cx="277.6" cy="306.4" r="3"/><circle cx="300.0" cy="290.6" r="3"/><circle cx="309.9" cy="271.2" r="3"/><circle cx="300.5" cy="274.8" r="3"/><circle cx="291.7" cy="278.1" r="3"/><circle cx="341.7" cy="254.6" r="3"/><circle cx="239.6" cy="294.0" r="3"/><circle cx="389.5" cy="251.8" r="3"/><circle cx="326.6" cy="257.5" r="3"/><circle cx="257.8" cy="303.5" r="3"/><circle cx="271.1" cy="301.9" r="3"/><circle cx="286.5" cy="295.0" r="3"/><circle cx="291.5" cy="282.8" r="3"/><circle cx="311.1" cy="249.1" r="3"/><circle cx="254.6" cy="304.7" r="3"/><circle cx="336.4" cy="272.2" r="3"/><circle cx="383.8" cy="274.4" r="3"/><circle cx="224.8" cy="307.5" r="3"/><circle cx="236.7" cy="307.5" r="3"/><circle cx="310.9" cy="242.3" r="3"/><circle cx="282.3" cy="280.0" r="3"/><circle cx="263.9" cy="292.0" r="3"/><circle cx="357.4" cy="282.5" r="3"/><circle cx="279.6" cy="242.5" r="3"/><circle cx="383.0" cy="255.4" r="3"/><circle cx="259.8" cy="284.9" r="3"/><circle cx="369.6" cy="269.9" r="3"/><circle cx="343.0" cy="283.7" r="3"/><circle cx="333.7" cy="280.2" r="3"/><circle cx="311.8" cy="296.0" r="3"/><circle cx="299.7" cy="260.4" r="3"/><circle cx="242.3" cy="304.2" r="3"/><circle cx="360.0" cy="292.6" r="3"/><circle cx="283.8" cy="283.4" r="3"/><circle cx="328.7" cy="250.2" r="3"/><circle cx="335.0" cy="237.4" r="3"/><circle cx="348.5" cy="268.8" r="3"/><circle cx="324.5" cy="270.6" r="3"/><circle cx="287.5" cy="283.4" r="3"/><circle cx="305.7" cy="286.5" r="3"/><circle cx="342.7" cy="233.8" r="3"/><circle cx="266.8" cy="300.0" r="3"/><circle cx="291.7" cy="290.8" r="3"/><circle cx="290.9" cy="290.3" r="3"/><circle cx="286.5" cy="294.5" r="3"/><circle cx="395.2" cy="247.6" r="3"/><circle cx="372.7" cy="235.5" r="3"/><circle cx="287.3" cy="290.9" r="3"/><circle cx="389.3" cy="228.4" r="3"/><circle cx="289.6" cy="288.1" r="3"/><circle cx="275.4" cy="289.1" r="3"/><circle cx="300.7" cy="285.0" r="3"/><circle cx="271.8" cy="266.4" r="3"/><circle cx="365.5" cy="241.7" r="3"/><circle cx="309.9" cy="259.2" r="3"/><circle cx="261.3" cy="267.4" r="3"/><circle cx="369.5" cy="242.6" r="3"/><circle cx="292.3" cy="286.0" r="3"/><circle cx="317.7" cy="265.8" r="3"/><circle cx="358.9" cy="267.6" r="3"/><circle cx="354.2" cy="270.5" r="3"/><circle cx="318.9" cy="277.3" r="3"/><circle cx="306.8" cy="261.3" r="3"/><circle cx="232.7" cy="292.4" r="3"/><circle cx="292.1" cy="266.6" r="3"/><circle cx="307.9" cy="271.6" r="3"/><circle cx="356.2" cy="254.8" r="3"/><circle cx="310.4" cy="243.6" r="3"/><circle cx="332.5" cy="279.0" r="3"/><circle cx="241.5" cy="274.2" r="3"/><circle cx="324.0" cy="257.7" r="3"/><circle cx="348.3" cy="268.6" r="3"/><circle cx="398.8" cy="236.2" r="3"/><circle cx="355.7" cy="266.4" r="3"/><circle cx="302.5" cy="249.3" r="3"/><circle cx="327.1" cy="255.0" r="3"/><circle cx="319.8" cy="260.9" r="3"/><circle cx="316.9" cy="275.4" r="3"/><circle cx="319.7" cy="259.1" r="3"/><circle cx="256.9" cy="307.4" r="3"/><circle cx="397.4" cy="254.4" r="3"/><circle cx="311.9" cy="270.7" r="3"/><circle cx="282.2" cy="283.0" r="3"/><circle cx="234.2" cy="307.5" r="3"/><circle cx="311.4" cy="265.3" r="3"/><circle cx="334.4" cy="224.4" r="3"/><circle cx="271.8" cy="266.5" r="3"/><circle cx="353.6" cy="276.9" r="3"/><circle cx="307.0" cy="276.8" r="3"/><circle cx="288.1" cy="297.7" r="3"/><circle cx="312.4" cy="284.0" r="3"/><circle cx="317.6" cy="246.4" r="3"/><circle cx="307.5" cy="282.8" r="3"/><circle cx="280.5" cy="255.8" r="3"/><circle cx="361.4" cy="266.4" r="3"/><circle cx="278.6" cy="279.3" r="3"/><circle cx="339.4" cy="228.7" r="3"/><circle cx="314.2" cy="295.4" r="3"/><circle cx="271.5" cy="308.5" r="3"/><circle cx="293.9" cy="263.2" r="3"/><circle cx="360.0" cy="282.7" r="3"/><circle cx="302.5" cy="268.3" r="3"/><circle cx="265.1" cy="266.3" r="3"/><circle cx="269.7" cy="284.7" r="3"/><circle cx="293.2" cy="289.7" r="3"/><circle cx="275.8" cy="263.9" r="3"/><circle cx="291.1" cy="281.5" r="3"/><circle cx="250.1" cy="272.7" r="3"/><circle cx="311.6" cy="280.1" r="3"/><circle cx="346.3" cy="295.6" r="3"/><circle cx="324.4" cy="257.7" r="3"/><circle cx="330.2" cy="237.1" r="3"/><circle cx="232.7" cy="302.2" r="3"/><circle cx="311.9" cy="253.9" r="3"/><circle cx="230.5" cy="312.1" r="3"/><circle cx="336.4" cy="239.1" r="3"/><circle cx="315.9" cy="284.6" r="3"/><circle cx="364.2" cy="244.2" r="3"/><circle cx="275.3" cy="281.9" r="3"/><circle cx="261.7" cy="290.8" r="3"/><circle cx="308.5" cy="281.7" r="3"/><circle cx="270.1" cy="284.9" r="3"/><circle cx="261.4" cy="261.6" r="3"/><circle cx="270.4" cy="270.9" r="3"/><circle cx="289.1" cy="285.2" r="3"/><circle cx="302.7" cy="270.5" r="3"/><circle cx="340.5" cy="242.8" r="3"/><circle cx="287.0" cy="277.9" r="3"/><circle cx="359.4" cy="226.0" r="3"/><circle cx="318.8" cy="258.7" r="3"/><circle cx="292.6" cy="270.5" r="3"/><circle cx="331.5" cy="254.6" r="3"/><circle cx="347.9" cy="273.2" r="3"/><circle cx="292.6" cy="253.8" r="3"/><circle cx="325.7" cy="257.8" r="3"/><circle cx="369.3" cy="247.2" r="3"/><circle cx="292.7" cy="267.8" r="3"/><circle cx="344.2" cy="279.1" r="3"/><circle cx="271.8" cy="251.0" r="3"/><circle cx="330.4" cy="256.6" r="3"/><circle cx="241.8" cy="310.3" r="3"/><circle cx="294.4" cy="298.3" r="3"/><circle cx="335.0" cy="251.6" r="3"/><circle cx="309.5" cy="247.0" r="3"/><circle cx="275.4" cy="300.1" r="3"/><circle cx="256.5" cy="295.0" r="3"/><circle cx="323.7" cy="293.9" r="3"/><circle cx="321.3" cy="242.7" r="3"/><circle cx="343.0" cy="267.8" r="3"/><circle cx="382.5" cy="271.6" r="3"/><circle cx="331.6" cy="283.3" r="3"/><circle cx="354.8" cy="276.6" r="3"/><circle cx="320.8" cy="257.0" r="3"/><circle cx="351.9" cy="242.9" r="3"/><circle cx="284.7" cy="270.7" r="3"/><circle cx="263.9" cy="281.4" r="3"/><circle cx="316.6" cy="252.2" r="3"/><circle cx="327.4" cy="236.5" r="3"/><circle cx="229.0" cy="306.6" r="3"/><circle cx="231.4" cy="304.7" r="3"/><circle cx="332.9" cy="272.1" r="3"/><circle cx="358.7" cy="268.2" r="3"/><circle cx="320.9" cy="285.3" r="3"/><circle cx="309.1" cy="272.7" r="3"/><circle cx="304.7" cy="286.5" r="3"/><circle cx="333.2" cy="232.1" r="3"/><circle cx="319.6" cy="287.0" r="3"/><circle cx="296.0" cy="289.3" r="3"/><circle cx="320.0" cy="266.3" r="3"/><circle cx="337.0" cy="242.5" r="3"/><circle cx="264.6" cy="254.7" r="3"/><circle cx="296.0" cy="266.5" r="3"/><circle cx="326.3" cy="241.0" r="3"/><circle cx="324.8" cy="233.8" r="3"/><circle cx="269.7" cy="276.7" r="3"/><circle cx="288.3" cy="293.2" r="3"/><circle cx="300.3" cy="277.5" r="3"/><circle cx="265.4" cy="264.5" r="3"/><circle cx="269.7" cy="280.4" r="3"/><circle cx="294.5" cy="303.2" r="3"/><circle cx="353.5" cy="281.9" r="3"/><circle cx="281.1" cy="276.0" r="3"/><circle cx="308.3" cy="277.9" r="3"/><circle cx="261.3" cy="288.6" r="3"/><circle cx="308.0" cy="308.7" r="3"/><circle cx="282.4" cy="264.3" r="3"/><circle cx="302.1" cy="253.7" r="3"/><circle cx="353.9" cy="271.6" r="3"/><circle cx="371.1" cy="228.7" r="3"/><circle cx="325.0" cy="255.6" r="3"/><circle cx="351.9" cy="286.9" r="3"/><circle cx="393.7" cy="257.1" r="3"/><circle cx="333.6" cy="279.0" r="3"/><circle cx="306.4" cy="292.7" r="3"/><circle cx="346.4" cy="277.5" r="3"/><circle cx="277.8" cy="274.8" r="3"/><circle cx="376.9" cy="253.3" r="3"/><circle cx="357.7" cy="247.2" r="3"/><circle cx="287.8" cy="294.3" r="3"/><circle cx="350.8" cy="276.4" r="3"/><circle cx="390.4" cy="262.2" r="3"/><circle cx="322.8" cy="258.6" r="3"/><circle cx="387.8" cy="247.4" r="3"/><circle cx="387.2" cy="247.3" r="3"/><circle cx="237.8" cy="304.4" r="3"/><circle cx="286.9" cy="261.8" r="3"/><circle cx="326.2" cy="291.1" r="3"/><circle cx="289.7" cy="291.5" r="3"/><circle cx="325.2" cy="228.5" r="3"/><circle cx="357.9" cy="271.6" r="3"/><circle cx="208.9" cy="290.4" r="3"/><circle cx="334.5" cy="254.4" r="3"/><circle cx="235.8" cy="288.2" r="3"/><circle cx="292.6" cy="284.9" r="3"/><circle cx="319.8" cy="230.1" r="3"/><circle cx="251.3" cy="282.5" r="3"/><circle cx="216.6" cy="295.8" r="3"/><circle cx="282.2" cy="280.9" r="3"/><circle cx="303.5" cy="284.0" r="3"/><circle cx="314.5" cy="275.1" r="3"/><circle cx="290.5" cy="298.7" r="3"/><circle cx="314.9" cy="261.2" r="3"/><circle cx="390.9" cy="235.0" r="3"/><circle cx="382.7" cy="257.2" r="3"/><circle cx="335.5" cy="279.7" r="3"/><circle cx="328.8" cy="287.9" r="3"/><circle cx="293.0" cy="297.6" r="3"/><circle cx="342.2" cy="225.3" r="3"/><circle cx="317.3" cy="260.9" r="3"/><circle cx="300.1" cy="254.7" r="3"/><circle cx="281.8" cy="287.4" r="3"/><circle cx="300.7" cy="272.2" r="3"/><circle cx="254.0" cy="277.5" r="3"/><circle cx="287.8" cy="292.7" r="3"/><circle cx="216.7" cy="308.9" r="3"/><circle cx="274.3" cy="292.3" r="3"/><circle cx="312.6" cy="233.4" r="3"/><circle cx="374.2" cy="254.7" r="3"/><circle cx="282.0" cy="255.1" r="3"/><circle cx="355.2" cy="273.1" r="3"/><circle cx="383.9" cy="265.6" r="3"/><circle cx="246.2" cy="278.5" r="3"/><circle cx="327.1" cy="269.2" r="3"/><circle cx="257.1" cy="302.3" r="3"/><circle cx="263.8" cy="292.5" r="3"/><circle cx="320.3" cy="295.3" r="3"/><circle cx="252.4" cy="299.2" r="3"/><circle cx="320.8" cy="269.4" r="3"/><circle cx="357.0" cy="237.2" r="3"/><circle cx="264.9" cy="254.5" r="3"/><circle cx="330.6" cy="282.1" r="3"/><circle cx="281.9" cy="288.3" r="3"/><circle cx="270.0" cy="279.3" r="3"/><circle cx="305.9" cy="262.4" r="3"/><circle cx="312.1" cy="267.5" r="3"/><circle cx="289.0" cy="287.4" r="3"/><circle cx="302.5" cy="246.9" r="3"/><circle cx="293.6" cy="294.3" r="3"/><circle cx="243.2" cy="285.1" r="3"/><circle cx="337.6" cy="264.3" r="3"/><circle cx="286.6" cy="267.2" r="3"/><circle cx="279.4" cy="283.6" r="3"/><circle cx="323.5" cy="273.3" r="3"/><circle cx="328.6" cy="227.0" r="3"/><circle cx="280.0" cy="281.5" r="3"/><circle cx="341.5" cy="284.5" r="3"/><circle cx="375.0" cy="241.1" r="3"/><circle cx="297.8" cy="290.4" r="3"/><circle cx="296.3" cy="289.4" r="3"/><circle cx="325.1" cy="268.5" r="3"/><circle cx="287.5" cy="287.4" r="3"/><circle cx="338.7" cy="248.4" r="3"/><circle cx="345.3" cy="262.7" r="3"/><circle cx="345.6" cy="278.9" r="3"/><circle cx="361.3" cy="265.6" r="3"/><circle cx="263.5" cy="286.8" r="3"/><circle cx="277.2" cy="289.5" r="3"/><circle cx="257.1" cy="290.7" r="3"/><circle cx="307.9" cy="240.7" r="3"/><circle cx="315.8" cy="288.8" r="3"/><circle cx="260.5" cy="290.3" r="3"/><circle cx="283.2" cy="301.9" r="3"/><circle cx="316.6" cy="244.3" r="3"/><circle cx="270.4" cy="290.5" r="3"/><circle cx="243.0" cy="293.6" r="3"/><circle cx="258.3" cy="303.1" r="3"/><circle cx="237.3" cy="299.6" r="3"/><circle cx="310.4" cy="252.1" r="3"/><circle cx="300.7" cy="292.3" r="3"/><circle cx="298.2" cy="286.1" r="3"/><circle cx="338.3" cy="278.1" r="3"/><circle cx="404.4" cy="231.1" r="3"/><circle cx="388.8" cy="257.7" r="3"/><circle cx="304.7" cy="271.3" r="3"/><circle cx="349.2" cy="259.5" r="3"/><circle cx="340.1" cy="277.0" r="3"/><circle cx="339.0" cy="275.5" r="3"/><circle cx="319.7" cy="271.8" r="3"/><circle cx="262.9" cy="279.0" r="3"/><circle cx="327.9" cy="256.9" r="3"/><circle cx="240.2" cy="261.1" r="3"/><circle cx="320.0" cy="251.2" r="3"/><circle cx="318.5" cy="282.7" r="3"/><circle cx="320.3" cy="270.7" r="3"/><circle cx="328.2" cy="292.9" r="3"/><circle cx="242.4" cy="273.1" r="3"/><circle cx="356.1" cy="257.8" r="3"/><circle cx="292.7" cy="234.1" r="3"/><circle cx="267.0" cy="287.8" r="3"/><circle cx="332.8" cy="267.6" r="3"/><circle cx="241.7" cy="266.4" r="3"/><circle cx="278.9" cy="269.5" r="3"/><circle cx="300.9" cy="268.2" r="3"/><circle cx="355.6" cy="231.7" r="3"/><circle cx="263.6" cy="299.9" r="3"/><circle cx="346.9" cy="266.8" r="3"/><circle cx="336.4" cy="281.1" r="3"/><circle cx="327.0" cy="281.8" r="3"/><circle cx="253.0" cy="291.4" r="3"/><circle cx="332.7" cy="284.2" r="3"/><circle cx="346.6" cy="232.7" r="3"/><circle cx="282.2" cy="255.9" r="3"/><circle cx="286.6" cy="286.6" r="3"/><circle cx="244.0" cy="299.6" r="3"/><circle cx="313.6" cy="245.6" r="3"/><circle cx="305.9" cy="288.8" r="3"/><circle cx="334.3" cy="285.4" r="3"/><circle cx="300.0" cy="288.3" r="3"/><circle cx="372.5" cy="266.2" r="3"/><circle cx="224.5" cy="290.4" r="3"/><circle cx="325.1" cy="277.6" r="3"/><circle cx="354.4" cy="260.8" r="3"/><circle cx="307.8" cy="265.2" r="3"/><circle cx="235.3" cy="310.0" r="3"/><circle cx="226.3" cy="294.7" r="3"/><circle cx="306.0" cy="232.0" r="3"/><circle cx="239.4" cy="311.2" r="3"/><circle cx="294.3" cy="278.5" r="3"/><circle cx="335.7" cy="276.9" r="3"/><circle cx="351.6" cy="280.4" r="3"/><circle cx="224.2" cy="301.8" r="3"/><circle cx="254.1" cy="259.8" r="3"/><circle cx="330.6" cy="262.2" r="3"/><circle cx="314.9" cy="245.6" r="3"/><circle cx="253.2" cy="301.6" r="3"/><circle cx="268.1" cy="304.5" r="3"/><circle cx="333.5" cy="269.7" r="3"/><circle cx="278.9" cy="284.0" r="3"/><circle cx="285.1" cy="274.6" r="3"/><circle cx="324.2" cy="241.5" r="3"/><circle cx="217.4" cy="303.5" r="3"/><circle cx="309.0" cy="268.5" r="3"/><circle cx="273.7" cy="287.6" r="3"/><circle cx="350.5" cy="235.7" r="3"/><circle cx="268.6" cy="270.6" r="3"/><circle cx="295.4" cy="286.5" r="3"/><circle cx="257.4" cy="260.0" r="3"/><circle cx="301.1" cy="284.1" r="3"/><circle cx="333.8" cy="298.7" r="3"/><circle cx="357.0" cy="254.8" r="3"/><circle cx="298.2" cy="270.2" r="3"/><circle cx="259.1" cy="283.2" r="3"/><circle cx="276.5" cy="282.6" r="3"/><circle cx="248.4" cy="279.0" r="3"/><circle cx="274.2" cy="289.9" r="3"/><circle cx="343.7" cy="251.8" r="3"/><circle cx="369.4" cy="251.8" r="3"/><circle cx="281.1" cy="281.0" r="3"/><circle cx="300.8" cy="286.7" r="3"/><circle cx="299.7" cy="279.8" r="3"/><circle cx="322.2" cy="247.0" r="3"/><circle cx="311.0" cy="296.0" r="3"/><circle cx="349.8" cy="250.3" r="3"/><circle cx="257.4" cy="290.4" r="3"/><circle cx="274.6" cy="279.8" r="3"/><circle cx="332.9" cy="298.6" r="3"/><circle cx="301.0" cy="266.7" r="3"/><circle cx="326.8" cy="276.6" r="3"/><circle cx="300.7" cy="264.6" r="3"/><circle cx="395.9" cy="262.6" r="3"/><circle cx="294.6" cy="276.0" r="3"/><circle cx="285.1" cy="251.8" r="3"/><circle cx="349.3" cy="258.3" r="3"/><circle cx="331.2" cy="265.6" r="3"/><circle cx="304.6" cy="258.7" r="3"/><circle cx="230.0" cy="310.3" r="3"/><circle cx="343.2" cy="273.1" r="3"/><circle cx="319.7" cy="243.1" r="3"/><circle cx="376.0" cy="225.0" r="3"/><circle cx="296.5" cy="291.2" r="3"/><circle cx="369.5" cy="275.6" r="3"/><circle cx="254.8" cy="306.4" r="3"/><circle cx="380.2" cy="230.2" r="3"/><circle cx="322.7" cy="242.5" r="3"/><circle cx="336.0" cy="222.9" r="3"/><circle cx="299.8" cy="281.4" r="3"/><circle cx="267.5" cy="274.7" r="3"/><circle cx="301.0" cy="295.0" r="3"/><circle cx="275.5" cy="285.5" r="3"/><circle cx="329.7" cy="298.9" r="3"/><circle cx="352.3" cy="285.7" r="3"/><circle cx="265.7" cy="285.5" r="3"/><circle cx="353.9" cy="283.7" r="3"/><circle cx="377.0" cy="243.5" r="3"/><circle cx="354.1" cy="257.6" r="3"/><circle cx="379.8" cy="251.0" r="3"/><circle cx="309.7" cy="256.4" r="3"/><circle cx="346.7" cy="272.5" r="3"/><circle cx="254.5" cy="312.9" r="3"/><circle cx="323.0" cy="275.5" r="3"/><circle cx="347.0" cy="296.2" r="3"/><circle cx="315.2" cy="280.8" r="3"/><circle cx="233.3" cy="306.4" r="3"/><circle cx="379.2" cy="268.0" r="3"/><circle cx="394.3" cy="250.6" r="3"/><circle cx="378.7" cy="265.0" r="3"/><circle cx="307.4" cy="287.4" r="3"/><circle cx="317.6" cy="282.5" r="3"/><circle cx="322.3" cy="261.2" r="3"/><circle cx="322.4" cy="288.9" r="3"/><circle cx="313.4" cy="265.1" r="3"/><circle cx="296.8" cy="254.9" r="3"/><circle cx="351.9" cy="282.1" r="3"/><circle cx="258.5" cy="263.1" r="3"/><circle cx="264.4" cy="288.5" r="3"/><circle cx="317.2" cy="250.4" r="3"/><circle cx="266.4" cy="309.5" r="3"/><circle cx="298.6" cy="278.5" r="3"/><circle cx="258.2" cy="289.2" r="3"/><circle cx="324.3" cy="287.6" r="3"/><circle cx="305.9" cy="240.6" r="3"/><circle cx="358.0" cy="276.1" r="3"/><circle cx="358.6" cy="268.9" r="3"/><circle cx="316.2" cy="271.8" r="3"/><circle cx="287.4" cy="305.6" r="3"/><circle cx="267.2" cy="298.7" r="3"/><circle cx="345.3" cy="260.6" r="3"/><circle cx="308.4" cy="250.6" r="3"/><circle cx="243.3" cy="298.0" r="3"/><circle cx="381.7" cy="261.0" r="3"/><circle cx="304.5" cy="252.1" r="3"/><circle cx="331.7" cy="235.4" r="3"/><circle cx="341.3" cy="261.5" r="3"/><circle cx="258.2" cy="284.9" r="3"/><circle cx="366.7" cy="264.8" r="3"/><circle cx="318.8" cy="281.2" r="3"/><circle cx="305.3" cy="274.2" r="3"/><circle cx="369.2" cy="225.5" r="3"/><circle cx="340.1" cy="271.7" r="3"/><circle cx="339.6" cy="281.1" r="3"/><circle cx="361.7" cy="291.7" r="3"/><circle cx="253.4" cy="292.2" r="3"/><circle cx="316.7" cy="262.8" r="3"/><circle cx="314.4" cy="265.2" r="3"/><circle cx="337.6" cy="220.7" r="3"/><circle cx="338.1" cy="277.3" r="3"/><circle cx="287.0" cy="300.4" r="3"/><circle cx="336.6" cy="247.5" r="3"/><circle cx="353.1" cy="234.3" r="3"/><circle cx="221.3" cy="310.0" r="3"/><circle cx="332.1" cy="243.8" r="3"/><circle cx="240.0" cy="271.1" r="3"/><circle cx="351.7" cy="232.1" r="3"/><circle cx="283.9" cy="292.1" r="3"/><circle cx="289.2" cy="260.7" r="3"/><circle cx="351.9" cy="269.9" r="3"/><circle cx="320.1" cy="280.5" r="3"/><circle cx="279.2" cy="277.0" r="3"/><circle cx="273.8" cy="255.1" r="3"/><circle cx="366.3" cy="265.2" r="3"/><circle cx="276.6" cy="267.2" r="3"/><circle cx="256.6" cy="299.1" r="3"/><circle cx="260.8" cy="263.3" r="3"/><circle cx="276.1" cy="288.3" r="3"/><circle cx="267.4" cy="293.4" r="3"/><circle cx="362.1" cy="257.9" r="3"/><circle cx="321.4" cy="267.9" r="3"/><circle cx="307.2" cy="268.5" r="3"/><circle cx="352.6" cy="277.1" r="3"/><circle cx="308.2" cy="260.1" r="3"/><circle cx="235.2" cy="290.5" r="3"/><circle cx="249.8" cy="302.4" r="3"/><circle cx="240.7" cy="299.3" r="3"/><circle cx="242.3" cy="299.7" r="3"/><circle cx="359.5" cy="278.8" r="3"/><circle cx="242.6" cy="285.2" r="3"/><circle cx="259.3" cy="260.1" r="3"/><circle cx="349.7" cy="262.7" r="3"/><circle cx="244.8" cy="273.6" r="3"/><circle cx="362.9" cy="269.2" r="3"/><circle cx="381.9" cy="240.2" r="3"/><circle cx="340.6" cy="263.7" r="3"/><circle cx="272.4" cy="296.2" r="3"/><circle cx="320.5" cy="238.4" r="3"/><circle cx="317.8" cy="251.6" r="3"/><circle cx="268.0" cy="287.9" r="3"/><circle cx="351.5" cy="224.1" r="3"/><circle cx="346.0" cy="260.4" r="3"/><circle cx="285.8" cy="305.4" r="3"/><circle cx="302.2" cy="273.1" r="3"/><circle cx="326.2" cy="258.8" r="3"/><circle cx="268.0" cy="282.1" r="3"/><circle cx="298.1" cy="290.3" r="3"/><circle cx="256.6" cy="296.3" r="3"/><circle cx="385.0" cy="275.3" r="3"/><circle cx="314.1" cy="275.3" r="3"/><circle cx="308.8" cy="298.8" r="3"/><circle cx="289.7" cy="288.4" r="3"/><circle cx="334.5" cy="267.1" r="3"/><circle cx="327.8" cy="301.5" r="3"/><circle cx="358.7" cy="260.9" r="3"/><circle cx="278.8" cy="311.6" r="3"/><circle cx="328.8" cy="275.1" r="3"/><circle cx="304.7" cy="293.2" r="3"/><circle cx="369.4" cy="222.8" r="3"/><circle cx="341.3" cy="254.7" r="3"/><circle cx="395.5" cy="252.0" r="3"/><circle cx="319.9" cy="282.9" r="3"/><circle cx="283.7" cy="294.6" r="3"/><circle cx="323.4" cy="271.4" r="3"/><circle cx="298.5" cy="279.1" r="3"/><circle cx="235.1" cy="308.1" r="3"/><circle cx="393.3" cy="240.1" r="3"/><circle cx="223.9" cy="305.4" r="3"/><circle cx="337.3" cy="245.7" r="3"/><circle cx="303.4" cy="280.5" r="3"/><circle cx="279.3" cy="282.8" r="3"/><circle cx="301.6" cy="260.1" r="3"/><circle cx="336.9" cy="265.9" r="3"/><circle cx="280.9" cy="300.6" r="3"/><circle cx="350.9" cy="233.4" r="3"/><circle cx="309.5" cy="283.3" r="3"/><circle cx="347.7" cy="292.7" r="3"/><circle cx="315.2" cy="288.9" r="3"/><circle cx="264.9" cy="301.6" r="3"/><circle cx="307.6" cy="292.0" r="3"/><circle cx="261.9" cy="280.1" r="3"/><circle cx="267.4" cy="274.7" r="3"/><circle cx="312.2" cy="270.9" r="3"/><circle cx="246.6" cy="287.1" r="3"/><circle cx="293.4" cy="245.7" r="3"/><circle cx="322.7" cy="280.1" r="3"/><circle cx="320.0" cy="286.5" r="3"/><circle cx="351.5" cy="236.1" r="3"/><circle cx="280.1" cy="280.6" r="3"/><circle cx="381.0" cy="228.8" r="3"/><circle cx="320.3" cy="255.8" r="3"/><circle cx="302.1" cy="284.1" r="3"/><circle cx="316.9" cy="245.8" r="3"/><circle cx="335.5" cy="221.5" r="3"/><circle cx="344.1" cy="267.9" r="3"/><circle cx="281.5" cy="276.8" r="3"/><circle cx="323.7" cy="251.1" r="3"/><circle cx="269.9" cy="287.4" r="3"/><circle cx="362.5" cy="228.2" r="3"/><circle cx="328.2" cy="273.8" r="3"/><circle cx="307.8" cy="289.0" r="3"/><circle cx="320.1" cy="295.8" r="3"/><circle cx="286.3" cy="293.3" r="3"/><circle cx="385.0" cy="249.4" r="3"/><circle cx="274.1" cy="286.7" r="3"/><circle cx="340.6" cy="268.5" r="3"/><circle cx="289.1" cy="277.4" r="3"/><circle cx="371.4" cy="269.2" r="3"/><circle cx="292.2" cy="285.6" r="3"/><circle cx="248.3" cy="266.9" r="3"/><circle cx="274.0" cy="279.4" r="3"/><circle cx="297.3" cy="272.6" r="3"/><circle cx="376.8" cy="224.2" r="3"/><circle cx="334.6" cy="275.3" r="3"/><circle cx="289.4" cy="290.7" r="3"/><circle cx="287.6" cy="270.5" r="3"/><circle cx="305.4" cy="262.1" r="3"/><circle cx="276.1" cy="285.0" r="3"/><circle cx="247.2" cy="290.7" r="3"/><circle cx="291.8" cy="278.3" r="3"/><circle cx="309.8" cy="282.0" r="3"/><circle cx="296.8" cy="284.8" r="3"/><circle cx="282.6" cy="276.5" r="3"/><circle cx="336.7" cy="247.5" r="3"/><circle cx="237.1" cy="278.8" r="3"/><circle cx="310.5" cy="290.6" r="3"/><circle cx="331.1" cy="254.8" r="3"/><circle cx="284.4" cy="261.9" r="3"/><circle cx="345.9" cy="294.7" r="3"/><circle cx="294.4" cy="268.2" r="3"/><circle cx="275.8" cy="271.6" r="3"/><circle cx="223.4" cy="294.8" r="3"/><circle cx="303.9" cy="289.5" r="3"/><circle cx="288.7" cy="293.3" r="3"/><circle cx="264.0" cy="292.8" r="3"/><circle cx="317.3" cy="284.0" r="3"/><circle cx="247.5" cy="296.5" r="3"/><circle cx="286.3" cy="283.6" r="3"/><circle cx="267.5" cy="307.7" r="3"/><circle cx="243.6" cy="293.0" r="3"/><circle cx="308.4" cy="283.3" r="3"/><circle cx="304.3" cy="289.8" r="3"/><circle cx="228.2" cy="307.1" r="3"/><circle cx="320.3" cy="278.2" r="3"/><circle cx="324.8" cy="282.7" r="3"/><circle cx="327.6" cy="264.9" r="3"/><circle cx="289.4" cy="265.6" r="3"/><circle cx="267.9" cy="282.0" r="3"/><circle cx="313.4" cy="278.5" r="3"/><circle cx="363.8" cy="286.3" r="3"/><circle cx="307.1" cy="243.3" r="3"/><circle cx="273.2" cy="292.1" r="3"/><circle cx="293.4" cy="293.6" r="3"/><circle cx="356.3" cy="281.6" r="3"/><circle cx="251.1" cy="288.7" r="3"/><circle cx="390.1" cy="246.2" r="3"/><circle cx="358.1" cy="246.0" r="3"/><circle cx="324.9" cy="272.2" r="3"/><circle cx="314.2" cy="249.5" r="3"/><circle cx="394.0" cy="260.8" r="3"/><circle cx="352.4" cy="257.3" r="3"/><circle cx="272.1" cy="272.5" r="3"/><circle cx="293.2" cy="284.7" r="3"/><circle cx="343.8" cy="248.2" r="3"/><circle cx="338.7" cy="294.3" r="3"/><circle cx="296.3" cy="248.9" r="3"/><circle cx="262.2" cy="306.1" r="3"/><circle cx="322.8" cy="278.7" r="3"/><circle cx="309.1" cy="271.8" r="3"/><circle cx="277.7" cy="279.7" r="3"/><circle cx="301.8" cy="275.5" r="3"/><circle cx="328.9" cy="254.3" r="3"/><circle cx="326.0" cy="275.9" r="3"/><circle cx="269.4" cy="294.1" r="3"/><circle cx="309.9" cy="238.3" r="3"/><circle cx="260.9" cy="261.4" r="3"/><circle cx="292.5" cy="291.1" r="3"/><circle cx="323.9" cy="273.4" r="3"/><circle cx="288.5" cy="273.2" r="3"/><circle cx="253.7" cy="288.5" r="3"/><circle cx="278.8" cy="278.1" r="3"/><circle cx="289.5" cy="267.4" r="3"/><circle cx="350.7" cy="268.4" r="3"/><circle cx="317.2" cy="249.9" r="3"/><circle cx="258.7" cy="261.6" r="3"/><circle cx="366.9" cy="267.8" r="3"/><circle cx="306.7" cy="277.8" r="3"/><circle cx="263.1" cy="299.1" r="3"/><circle cx="339.8" cy="263.6" r="3"/><circle cx="292.5" cy="279.1" r="3"/><circle cx="313.0" cy="280.1" r="3"/><circle cx="257.5" cy="292.5" r="3"/><circle cx="297.2" cy="285.8" r="3"/><circle cx="274.8" cy="299.8" r="3"/><circle cx="392.7" cy="267.3" r="3"/><circle cx="374.2" cy="272.1" r="3"/><circle cx="361.5" cy="226.5" r="3"/><circle cx="311.1" cy="281.3" r="3"/><circle cx="237.0" cy="282.0" r="3"/><circle cx="384.1" cy="253.1" r="3"/><circle cx="371.7" cy="230.3" r="3"/><circle cx="266.5" cy="314.8" r="3"/><circle cx="288.4" cy="295.5" r="3"/><circle cx="282.1" cy="289.4" r="3"/><circle cx="262.8" cy="294.8" r="3"/><circle cx="281.7" cy="289.3" r="3"/><circle cx="280.8" cy="290.0" r="3"/><circle cx="301.9" cy="264.3" r="3"/><circle cx="330.8" cy="271.7" r="3"/><circle cx="341.4" cy="256.5" r="3"/><circle cx="355.9" cy="272.0" r="3"/><circle cx="314.7" cy="286.2" r="3"/><circle cx="311.3" cy="281.4" r="3"/><circle cx="335.5" cy="225.6" r="3"/><circle cx="340.6" cy="263.1" r="3"/><circle cx="262.7" cy="255.1" r="3"/><circle cx="301.5" cy="276.1" r="3"/><circle cx="274.9" cy="281.6" r="3"/><circle cx="344.0" cy="241.2" r="3"/><circle cx="261.6" cy="276.3" r="3"/><circle cx="272.4" cy="294.6" r="3"/><circle cx="375.0" cy="230.2" r="3"/><circle cx="235.7" cy="301.4" r="3"/><circle cx="317.2" cy="282.0" r="3"/><circle cx="371.4" cy="221.9" r="3"/><circle cx="252.6" cy="278.6" r="3"/><circle cx="351.6" cy="281.3" r="3"/><circle cx="321.6" cy="254.8" r="3"/><circle cx="268.4" cy="304.2" r="3"/><circle cx="239.8" cy="273.5" r="3"/><circle cx="374.3" cy="228.9" r="3"/><circle cx="263.8" cy="290.7" r="3"/><circle cx="254.2" cy="281.4" r="3"/><circle cx="312.0" cy="290.2" r="3"/><circle cx="317.5" cy="237.0" r="3"/><circle cx="362.4" cy="235.0" r="3"/><circle cx="240.4" cy="284.3" r="3"/><circle cx="387.5" cy="249.1" r="3"/><circle cx="298.4" cy="273.8" r="3"/><circle cx="297.2" cy="268.8" r="3"/><circle cx="301.0" cy="267.1" r="3"/><circle cx="296.6" cy="257.2" r="3"/><circle cx="223.1" cy="300.3" r="3"/><circle cx="233.5" cy="308.7" r="3"/><circle cx="374.5" cy="234.3" r="3"/><circle cx="237.9" cy="294.8" r="3"/><circle cx="320.0" cy="291.2" r="3"/><circle cx="386.0" cy="249.1" r="3"/><circle cx="345.7" cy="275.0" r="3"/><circle cx="382.7" cy="271.7" r="3"/><circle cx="296.7" cy="260.7" r="3"/><circle cx="234.4" cy="310.0" r="3"/><circle cx="393.6" cy="228.5" r="3"/><circle cx="254.8" cy="286.7" r="3"/><circle cx="266.5" cy="290.3" r="3"/><circle cx="276.7" cy="258.8" r="3"/><circle cx="325.8" cy="274.1" r="3"/><circle cx="343.6" cy="275.3" r="3"/><circle cx="224.8" cy="303.0" r="3"/><circle cx="368.4" cy="227.5" r="3"/><circle cx="359.1" cy="251.7" r="3"/><circle cx="318.4" cy="258.4" r="3"/><circle cx="296.6" cy="285.2" r="3"/><circle cx="249.4" cy="278.2" r="3"/><circle cx="320.6" cy="277.0" r="3"/><circle cx="328.6" cy="256.9" r="3"/><circle cx="240.4" cy="309.4" r="3"/><circle cx="404.1" cy="239.3" r="3"/><circle cx="301.1" cy="277.5" r="3"/><circle cx="312.3" cy="289.8" r="3"/><circle cx="334.4" cy="220.3" r="3"/><circle cx="365.6" cy="268.8" r="3"/><circle cx="275.3" cy="289.9" r="3"/><circle cx="271.7" cy="270.4" r="3"/><circle cx="286.3" cy="288.4" r="3"/><circle cx="295.2" cy="286.1" r="3"/><circle cx="280.6" cy="254.2" r="3"/><circle cx="279.0" cy="291.9" r="3"/><circle cx="273.0" cy="287.5" r="3"/><circle cx="283.3" cy="270.2" r="3"/><circle cx="337.1" cy="270.3" r="3"/><circle cx="394.5" cy="238.4" r="3"/><circle cx="288.2" cy="283.0" r="3"/><circle cx="320.9" cy="290.3" r="3"/><circle cx="331.5" cy="271.6" r="3"/><circle cx="350.1" cy="271.1" r="3"/><circle cx="293.2" cy="309.4" r="3"/><circle cx="252.8" cy="292.7" r="3"/><circle cx="314.8" cy="269.4" r="3"/><circle cx="273.8" cy="297.4" r="3"/><circle cx="336.9" cy="283.2" r="3"/><circle cx="389.2" cy="268.7" r="3"/><circle cx="387.0" cy="266.7" r="3"/><circle cx="348.8" cy="246.6" r="3"/><circle cx="223.4" cy="302.0" r="3"/><circle cx="235.6" cy="310.5" r="3"/><circle cx="322.2" cy="249.8" r="3"/><circle cx="369.4" cy="243.8" r="3"/><circle cx="307.1" cy="281.0" r="3"/><circle cx="354.3" cy="268.3" r="3"/><circle cx="348.8" cy="273.4" r="3"/><circle cx="292.2" cy="293.7" r="3"/><circle cx="297.7" cy="288.0" r="3"/><circle cx="295.7" cy="283.2" r="3"/><circle cx="298.0" cy="302.4" r="3"/><circle cx="345.3" cy="276.6" r="3"/><circle cx="276.0" cy="285.7" r="3"/><circle cx="259.6" cy="300.6" r="3"/><circle cx="291.7" cy="294.3" r="3"/><circle cx="347.4" cy="258.7" r="3"/><circle cx="361.1" cy="271.9" r="3"/><circle cx="245.2" cy="305.3" r="3"/><circle cx="230.4" cy="304.1" r="3"/><circle cx="281.5" cy="249.6" r="3"/><circle cx="284.0" cy="295.7" r="3"/><circle cx="344.2" cy="253.2" r="3"/><circle cx="269.4" cy="286.2" r="3"/><circle cx="341.4" cy="266.5" r="3"/><circle cx="380.2" cy="260.8" r="3"/><circle cx="315.7" cy="276.9" r="3"/><circle cx="267.9" cy="274.3" r="3"/><circle cx="370.9" cy="279.2" r="3"/><circle cx="361.7" cy="279.4" r="3"/><circle cx="208.5" cy="305.5" r="3"/><circle cx="334.9" cy="267.8" r="3"/><circle cx="314.3" cy="288.8" r="3"/><circle cx="389.4" cy="256.4" r="3"/><circle cx="293.0" cy="295.0" r="3"/><circle cx="257.9" cy="302.6" r="3"/><circle cx="262.9" cy="301.3" r="3"/><circle cx="276.2" cy="269.0" r="3"/><circle cx="271.2" cy="296.2" r="3"/><circle cx="295.4" cy="249.0" r="3"/><circle cx="290.4" cy="277.2" r="3"/><circle cx="264.3" cy="279.3" r="3"/><circle cx="399.8" cy="231.8" r="3"/><circle cx="261.3" cy="261.6" r="3"/><circle cx="286.4" cy="245.0" r="3"/><circle cx="338.0" cy="254.8" r="3"/><circle cx="291.5" cy="269.9" r="3"/><circle cx="287.4" cy="277.4" r="3"/><circle cx="340.7" cy="272.2" r="3"/><circle cx="283.1" cy="294.7" r="3"/><circle cx="286.2" cy="278.3" r="3"/><circle cx="259.0" cy="269.7" r="3"/><circle cx="334.2" cy="278.3" r="3"/><circle cx="304.5" cy="260.2" r="3"/><circle cx="269.0" cy="296.2" r="3"/><circle cx="311.5" cy="240.6" r="3"/><circle cx="221.1" cy="311.0" r="3"/><circle cx="333.2" cy="269.7" r="3"/><circle cx="298.1" cy="266.4" r="3"/><circle cx="312.3" cy="234.1" r="3"/><circle cx="346.4" cy="263.7" r="3"/><circle cx="347.7" cy="268.6" r="3"/><circle cx="291.3" cy="279.6" r="3"/><circle cx="283.4" cy="268.6" r="3"/><circle cx="329.3" cy="280.9" r="3"/><circle cx="308.7" cy="269.0" r="3"/><circle cx="227.8" cy="280.0" r="3"/><circle cx="275.1" cy="297.6" r="3"/><circle cx="214.3" cy="302.3" r="3"/><circle cx="273.2" cy="283.5" r="3"/><circle cx="318.6" cy="234.8" r="3"/><circle cx="342.4" cy="276.2" r="3"/><circle cx="285.4" cy="245.1" r="3"/><circle cx="340.6" cy="285.9" r="3"/><circle cx="321.3" cy="285.8" r="3"/><circle cx="272.7" cy="298.3" r="3"/><circle cx="221.2" cy="290.4" r="3"/><circle cx="257.0" cy="299.4" r="3"/><circle cx="255.4" cy="294.7" r="3"/><circle cx="359.0" cy="229.4" r="3"/><circle cx="263.6" cy="291.9" r="3"/><circle cx="309.6" cy="303.5" r="3"/><circle cx="355.3" cy="295.9" r="3"/><circle cx="321.1" cy="249.8" r="3"/><circle cx="268.0" cy="282.4" r="3"/><circle cx="276.4" cy="278.1" r="3"/><circle cx="261.2" cy="266.1" r="3"/><circle cx="309.5" cy="266.5" r="3"/><circle cx="377.6" cy="265.8" r="3"/><circle cx="273.5" cy="280.9" r="3"/><circle cx="305.4" cy="279.4" r="3"/><circle cx="282.1" cy="288.4" r="3"/><circle cx="311.1" cy="278.9" r="3"/><circle cx="293.9" cy="302.7" r="3"/><circle cx="308.5" cy="286.3" r="3"/><circle cx="249.2" cy="289.9" r="3"/><circle cx="374.8" cy="228.7" r="3"/><circle cx="348.8" cy="263.0" r="3"/><circle cx="400.3" cy="232.9" r="3"/><circle cx="345.6" cy="218.2" r="3"/><circle cx="262.2" cy="259.3" r="3"/><circle cx="320.6" cy="278.9" r="3"/><circle cx="253.3" cy="297.9" r="3"/><circle cx="310.2" cy="230.0" r="3"/><circle cx="283.2" cy="286.4" r="3"/><circle cx="369.7" cy="251.1" r="3"/><circle cx="280.1" cy="261.5" r="3"/><circle cx="354.3" cy="246.1" r="3"/><circle cx="303.1" cy="261.0" r="3"/><circle cx="289.7" cy="285.6" r="3"/><circle cx="286.8" cy="291.3" r="3"/><circle cx="381.3" cy="226.8" r="3"/><circle cx="347.1" cy="301.5" r="3"/><circle cx="374.4" cy="237.8" r="3"/><circle cx="363.0" cy="263.5" r="3"/><circle cx="261.2" cy="276.5" r="3"/><circle cx="248.9" cy="299.8" r="3"/><circle cx="284.3" cy="296.0" r="3"/><circle cx="354.8" cy="258.1" r="3"/><circle cx="329.0" cy="277.4" r="3"/><circle cx="308.5" cy="272.8" r="3"/><circle cx="371.6" cy="238.0" r="3"/><circle cx="330.9" cy="222.9" r="3"/><circle cx="289.7" cy="291.9" r="3"/><circle cx="353.3" cy="270.6" r="3"/><circle cx="400.3" cy="244.2" r="3"/><circle cx="334.1" cy="303.8" r="3"/><circle cx="317.8" cy="277.8" r="3"/><circle cx="316.4" cy="291.5" r="3"/><circle cx="297.6" cy="242.8" r="3"/><circle cx="245.4" cy="298.2" r="3"/><circle cx="270.5" cy="306.0" r="3"/><circle cx="344.1" cy="263.5" r="3"/><circle cx="295.1" cy="282.9" r="3"/><circle cx="337.2" cy="281.9" r="3"/><circle cx="281.8" cy="298.4" r="3"/><circle cx="315.1" cy="288.9" r="3"/><circle cx="306.9" cy="291.5" r="3"/><circle cx="306.0" cy="272.9" r="3"/><circle cx="299.0" cy="287.2" r="3"/><circle cx="260.2" cy="296.4" r="3"/><circle cx="345.7" cy="276.4" r="3"/><circle cx="331.0" cy="254.5" r="3"/><circle cx="266.6" cy="286.6" r="3"/><circle cx="255.8" cy="268.5" r="3"/><circle cx="318.4" cy="283.9" r="3"/><circle cx="268.2" cy="278.5" r="3"/><circle cx="350.3" cy="230.0" r="3"/><circle cx="341.5" cy="246.1" r="3"/><circle cx="307.4" cy="298.1" r="3"/><circle cx="343.8" cy="227.2" r="3"/><circle cx="290.7" cy="281.3" r="3"/><circle cx="330.5" cy="268.3" r="3"/><circle cx="304.9" cy="285.0" r="3"/><circle cx="403.6" cy="228.6" r="3"/><circle cx="312.2" cy="280.1" r="3"/><circle cx="317.5" cy="284.6" r="3"/><circle cx="349.7" cy="264.7" r="3"/><circle cx="297.3" cy="286.2" r="3"/><circle cx="292.7" cy="288.2" r="3"/><circle cx="302.9" cy="278.0" r="3"/><circle cx="269.2" cy="267.9" r="3"/><circle cx="272.3" cy="297.8" r="3"/><circle cx="361.7" cy="250.8" r="3"/><circle cx="344.1" cy="240.1" r="3"/><circle cx="283.8" cy="274.5" r="3"/><circle cx="280.8" cy="293.3" r="3"/><circle cx="235.3" cy="305.3" r="3"/><circle cx="250.8" cy="300.5" r="3"/><circle cx="345.8" cy="287.5" r="3"/><circle cx="298.1" cy="291.9" r="3"/><circle cx="372.3" cy="226.6" r="3"/><circle cx="287.4" cy="282.1" r="3"/><circle cx="317.4" cy="276.4" r="3"/><circle cx="287.7" cy="269.3" r="3"/><circle cx="283.3" cy="285.5" r="3"/><circle cx="351.4" cy="266.4" r="3"/><circle cx="368.3" cy="223.9" r="3"/><circle cx="293.7" cy="279.4" r="3"/><circle cx="288.3" cy="275.9" r="3"/><circle cx="319.4" cy="270.5" r="3"/><circle cx="309.6" cy="249.2" r="3"/><circle cx="276.9" cy="290.9" r="3"/><circle cx="262.1" cy="271.6" r="3"/><circle cx="351.3" cy="262.1" r="3"/><circle cx="333.7" cy="287.6" r="3"/><circle cx="324.8" cy="231.9" r="3"/><circle cx="398.2" cy="238.2" r="3"/><circle cx="365.3" cy="264.7" r="3"/><circle cx="219.3" cy="293.3" r="3"/><circle cx="257.5" cy="305.2" r="3"/><circle cx="306.0" cy="275.1" r="3"/><circle cx="371.7" cy="261.5" r="3"/><circle cx="281.7" cy="280.7" r="3"/><circle cx="229.8" cy="305.5" r="3"/><circle cx="272.4" cy="281.4" r="3"/><circle cx="283.6" cy="268.4" r="3"/><circle cx="246.6" cy="296.6" r="3"/><circle cx="227.4" cy="297.8" r="3"/><circle cx="285.4" cy="296.5" r="3"/><circle cx="331.8" cy="261.3" r="3"/><circle cx="337.5" cy="244.3" r="3"/><circle cx="309.4" cy="258.2" r="3"/><circle cx="377.6" cy="248.6" r="3"/><circle cx="298.9" cy="275.7" r="3"/><circle cx="251.0" cy="291.4" r="3"/><circle cx="283.3" cy="281.8" r="3"/><circle cx="328.3" cy="253.6" r="3"/><circle cx="259.5" cy="300.2" r="3"/><circle cx="355.2" cy="250.4" r="3"/><circle cx="245.0" cy="288.5" r="3"/><circle cx="306.4" cy="290.6" r="3"/><circle cx="314.5" cy="255.1" r="3"/><circle cx="259.0" cy="298.4" r="3"/><circle cx="278.0" cy="251.6" r="3"/><circle cx="225.1" cy="288.2" r="3"/><circle cx="250.7" cy="300.4" r="3"/><circle cx="293.7" cy="271.0" r="3"/><circle cx="364.7" cy="264.9" r="3"/><circle cx="308.2" cy="265.8" r="3"/><circle cx="346.7" cy="237.4" r="3"/><circle cx="258.5" cy="282.8" r="3"/><circle cx="322.1" cy="294.7" r="3"/><circle cx="306.2" cy="272.4" r="3"/><circle cx="390.8" cy="257.2" r="3"/><circle cx="249.6" cy="295.7" r="3"/><circle cx="329.5" cy="286.6" r="3"/><circle cx="310.4" cy="276.0" r="3"/><circle cx="312.9" cy="266.4" r="3"/><circle cx="317.5" cy="271.0" r="3"/><circle cx="365.9" cy="239.2" r="3"/><circle cx="340.5" cy="282.7" r="3"/><circle cx="324.7" cy="273.5" r="3"/><circle cx="306.5" cy="289.1" r="3"/><circle cx="358.5" cy="247.0" r="3"/><circle cx="270.7" cy="261.5" r="3"/><circle cx="263.6" cy="307.5" r="3"/><circle cx="217.6" cy="300.5" r="3"/><circle cx="277.6" cy="279.8" r="3"/><circle cx="230.5" cy="299.2" r="3"/><circle cx="276.1" cy="271.4" r="3"/><circle cx="261.4" cy="296.6" r="3"/><circle cx="265.5" cy="279.6" r="3"/><circle cx="297.3" cy="245.7" r="3"/><circle cx="305.1" cy="293.5" r="3"/><circle cx="227.8" cy="297.4" r="3"/><circle cx="324.6" cy="278.9" r="3"/><circle cx="371.8" cy="258.4" r="3"/><circle cx="281.9" cy="272.6" r="3"/><circle cx="339.4" cy="258.2" r="3"/><circle cx="256.0" cy="272.1" r="3"/><circle cx="329.0" cy="268.6" r="3"/><circle cx="314.5" cy="270.1" r="3"/><circle cx="287.9" cy="305.4" r="3"/><circle cx="289.8" cy="286.4" r="3"/><circle cx="324.0" cy="275.6" r="3"/><circle cx="279.7" cy="301.4" r="3"/><circle cx="379.4" cy="245.5" r="3"/><circle cx="273.1" cy="294.2" r="3"/><circle cx="348.0" cy="265.2" r="3"/><circle cx="260.3" cy="281.2" r="3"/><circle cx="356.5" cy="261.3" r="3"/><circle cx="231.9" cy="284.6" r="3"/><circle cx="280.8" cy="302.5" r="3"/><circle cx="260.3" cy="292.2" r="3"/><circle cx="304.3" cy="274.9" r="3"/><circle cx="319.5" cy="290.6" r="3"/><circle cx="228.2" cy="307.0" r="3"/><circle cx="230.3" cy="296.8" r="3"/><circle cx="361.2" cy="251.1" r="3"/><circle cx="273.6" cy="273.1" r="3"/><circle cx="361.5" cy="250.7" r="3"/><circle cx="290.0" cy="299.2" r="3"/><circle cx="315.9" cy="241.8" r="3"/><circle cx="254.2" cy="290.2" r="3"/><circle cx="259.5" cy="272.1" r="3"/><circle cx="283.3" cy="247.0" r="3"/><circle cx="239.0" cy="295.3" r="3"/><circle cx="252.4" cy="307.2" r="3"/><circle cx="350.6" cy="262.2" r="3"/><circle cx="273.8" cy="269.4" r="3"/><circle cx="281.8" cy="300.2" r="3"/><circle cx="319.9" cy="288.3" r="3"/><circle cx="272.7" cy="285.3" r="3"/><circle cx="273.6" cy="296.2" r="3"/><circle cx="327.9" cy="236.8" r="3"/><circle cx="353.3" cy="249.5" r="3"/><circle cx="296.7" cy="274.4" r="3"/><circle cx="243.7" cy="303.2" r="3"/><circle cx="369.2" cy="252.6" r="3"/><circle cx="316.8" cy="279.3" r="3"/><circle cx="250.4" cy="267.0" r="3"/><circle cx="292.3" cy="286.8" r="3"/><circle cx="301.0" cy="284.8" r="3"/><circle cx="330.2" cy="245.1" r="3"/><circle cx="268.7" cy="303.3" r="3"/><circle cx="265.4" cy="300.0" r="3"/><circle cx="258.7" cy="289.5" r="3"/><circle cx="280.5" cy="282.6" r="3"/><circle cx="286.4" cy="253.8" r="3"/><circle cx="312.3" cy="282.9" r="3"/><circle cx="318.0" cy="292.4" r="3"/><circle cx="330.4" cy="228.8" r="3"/><circle cx="265.0" cy="275.2" r="3"/><circle cx="324.2" cy="271.5" r="3"/><circle cx="376.2" cy="243.3" r="3"/><circle cx="342.5" cy="265.5" r="3"/><circle cx="303.7" cy="287.3" r="3"/><circle cx="261.5" cy="288.4" r="3"/><circle cx="308.3" cy="282.2" r="3"/><circle cx="225.0" cy="296.0" r="3"/><circle cx="333.2" cy="277.1" r="3"/><circle cx="224.2" cy="292.7" r="3"/><circle cx="304.0" cy="245.8" r="3"/><circle cx="388.7" cy="243.7" r="3"/><circle cx="378.4" cy="269.9" r="3"/><circle cx="231.9" cy="312.5" r="3"/><circle cx="227.7" cy="278.2" r="3"/><circle cx="255.6" cy="285.9" r="3"/><circle cx="304.6" cy="266.3" r="3"/><circle cx="333.7" cy="290.7" r="3"/><circle cx="349.2" cy="222.6" r="3"/><circle cx="333.7" cy="280.3" r="3"/><circle cx="279.3" cy="273.3" r="3"/><circle cx="222.6" cy="308.7" r="3"/><circle cx="374.6" cy="258.3" r="3"/><circle cx="341.0" cy="266.3" r="3"/><circle cx="377.2" cy="228.9" r="3"/><circle cx="373.8" cy="256.6" r="3"/><circle cx="278.3" cy="301.0" r="3"/><circle cx="342.0" cy="291.2" r="3"/><circle cx="376.8" cy="255.2" r="3"/><circle cx="278.7" cy="278.6" r="3"/><circle cx="367.5" cy="280.5" r="3"/><circle cx="336.9" cy="283.5" r="3"/><circle cx="329.5" cy="286.5" r="3"/><circle cx="228.7" cy="278.7" r="3"/><circle cx="295.4" cy="251.2" r="3"/><circle cx="304.8" cy="292.3" r="3"/><circle cx="333.9" cy="224.2" r="3"/><circle cx="276.5" cy="297.6" r="3"/><circle cx="251.2" cy="285.7" r="3"/><circle cx="290.5" cy="283.9" r="3"/><circle cx="294.3" cy="287.0" r="3"/><circle cx="220.4" cy="297.9" r="3"/><circle cx="343.4" cy="251.3" r="3"/><circle cx="330.4" cy="242.2" r="3"/><circle cx="365.2" cy="228.7" r="3"/><circle cx="355.8" cy="234.5" r="3"/><circle cx="328.7" cy="269.1" r="3"/><circle cx="295.9" cy="298.9" r="3"/><circle cx="264.8" cy="303.4" r="3"/><circle cx="256.4" cy="291.9" r="3"/><circle cx="375.6" cy="259.3" r="3"/><circle cx="322.9" cy="266.7" r="3"/><circle cx="318.1" cy="251.2" r="3"/><circle cx="305.6" cy="290.3" r="3"/><circle cx="364.5" cy="256.4" r="3"/><circle cx="338.6" cy="225.6" r="3"/><circle cx="246.7" cy="299.5" r="3"/><circle cx="272.4" cy="288.7" r="3"/><circle cx="326.6" cy="242.1" r="3"/><circle cx="268.1" cy="276.0" r="3"/><circle cx="342.7" cy="260.0" r="3"/><circle cx="356.2" cy="238.2" r="3"/><circle cx="294.4" cy="292.4" r="3"/><circle cx="287.0" cy="296.5" r="3"/><circle cx="388.9" cy="244.6" r="3"/><circle cx="245.9" cy="288.6" r="3"/><circle cx="330.9" cy="274.4" r="3"/><circle cx="316.2" cy="276.5" r="3"/><circle cx="238.1" cy="301.7" r="3"/><circle cx="345.8" cy="234.0" r="3"/><circle cx="364.8" cy="278.4" r="3"/><circle cx="297.8" cy="257.7" r="3"/><circle cx="265.8" cy="295.2" r="3"/><circle cx="294.4" cy="292.9" r="3"/><circle cx="312.7" cy="270.7" r="3"/><circle cx="369.5" cy="254.1" r="3"/><circle cx="285.4" cy="274.4" r="3"/><circle cx="254.6" cy="303.6" r="3"/><circle cx="279.9" cy="255.3" r="3"/><circle cx="269.4" cy="264.4" r="3"/><circle cx="304.2" cy="291.7" r="3"/><circle cx="316.3" cy="236.1" r="3"/><circle cx="285.8" cy="272.1" r="3"/><circle cx="250.6" cy="279.2" r="3"/><circle cx="242.3" cy="305.8" r="3"/><circle cx="342.4" cy="271.1" r="3"/><circle cx="266.8" cy="283.9" r="3"/><circle cx="310.2" cy="281.3" r="3"/><circle cx="343.2" cy="242.9" r="3"/><circle cx="349.7" cy="286.1" r="3"/><circle cx="381.7" cy="229.7" r="3"/><circle cx="255.3" cy="289.8" r="3"/><circle cx="355.1" cy="259.8" r="3"/><circle cx="279.4" cy="267.5" r="3"/><circle cx="340.7" cy="234.3" r="3"/><circle cx="267.9" cy="284.0" r="3"/><circle cx="291.8" cy="284.0" r="3"/><circle cx="205.8" cy="305.2" r="3"/><circle cx="279.8" cy="291.0" r="3"/><circle cx="365.4" cy="275.4" r="3"/><circle cx="270.0" cy="296.9" r="3"/><circle cx="296.5" cy="281.5" r="3"/><circle cx="341.3" cy="246.6" r="3"/><circle cx="307.6" cy="248.0" r="3"/><circle cx="346.5" cy="262.0" r="3"/><circle cx="334.5" cy="277.9" r="3"/><circle cx="310.2" cy="240.0" r="3"/><circle cx="361.9" cy="264.7" r="3"/><circle cx="369.2" cy="267.3" r="3"/><circle cx="286.4" cy="286.8" r="3"/><circle cx="281.7" cy="292.2" r="3"/><circle cx="266.9" cy="305.3" r="3"/><circle cx="290.9" cy="279.6" r="3"/><circle cx="262.3" cy="296.9" r="3"/><circle cx="266.7" cy="264.8" r="3"/><circle cx="310.6" cy="271.2" r="3"/><circle cx="294.4" cy="276.9" r="3"/><circle cx="275.8" cy="289.1" r="3"/><circle cx="325.3" cy="269.4" r="3"/><circle cx="368.0" cy="240.6" r="3"/><circle cx="308.0" cy="277.9" r="3"/><circle cx="262.8" cy="300.7" r="3"/><circle cx="263.1" cy="291.3" r="3"/><circle cx="331.4" cy="226.4" r="3"/><circle cx="351.8" cy="258.7" r="3"/><circle cx="302.2" cy="283.1" r="3"/><circle cx="323.1" cy="266.5" r="3"/><circle cx="334.4" cy="221.6" r="3"/><circle cx="289.9" cy="293.2" r="3"/><circle cx="233.7" cy="293.1" r="3"/><circle cx="299.4" cy="296.0" r="3"/><circle cx="382.4" cy="265.6" r="3"/><circle cx="266.9" cy="287.8" r="3"/><circle cx="272.1" cy="300.2" r="3"/><circle cx="344.1" cy="271.5" r="3"/><circle cx="312.0" cy="297.5" r="3"/><circle cx="335.0" cy="240.1" r="3"/><circle cx="312.9" cy="284.3" r="3"/><circle cx="253.9" cy="298.3" r="3"/><circle cx="298.0" cy="253.7" r="3"/><circle cx="310.7" cy="269.5" r="3"/><circle cx="290.3" cy="290.1" r="3"/><circle cx="277.9" cy="290.1" r="3"/><circle cx="309.4" cy="305.2" r="3"/><circle cx="216.6" cy="293.0" r="3"/><circle cx="344.1" cy="264.8" r="3"/><circle cx="272.1" cy="258.9" r="3"/><circle cx="235.6" cy="303.8" r="3"/><circle cx="285.0" cy="274.8" r="3"/><circle cx="233.7" cy="295.1" r="3"/><circle cx="394.1" cy="255.8" r="3"/><circle cx="286.6" cy="292.0" r="3"/><circle cx="381.3" cy="252.9" r="3"/><circle cx="244.4" cy="293.7" r="3"/><circle cx="364.4" cy="258.4" r="3"/><circle cx="315.3" cy="308.6" r="3"/><circle cx="302.9" cy="231.9" r="3"/><circle cx="306.9" cy="278.9" r="3"/><circle cx="306.4" cy="254.9" r="3"/><circle cx="312.7" cy="265.6" r="3"/><circle cx="241.0" cy="278.3" r="3"/><circle cx="283.2" cy="286.7" r="3"/><circle cx="310.8" cy="232.2" r="3"/><circle cx="277.7" cy="301.7" r="3"/><circle cx="325.8" cy="255.1" r="3"/><circle cx="325.4" cy="254.4" r="3"/><circle cx="296.3" cy="234.1" r="3"/><circle cx="279.3" cy="271.2" r="3"/><circle cx="280.5" cy="285.1" r="3"/><circle cx="343.3" cy="286.6" r="3"/><circle cx="262.6" cy="292.5" r="3"/><circle cx="324.5" cy="255.4" r="3"/><circle cx="258.4" cy="282.9" r="3"/><circle cx="343.8" cy="250.6" r="3"/><circle cx="302.2" cy="263.4" r="3"/><circle cx="307.0" cy="278.8" r="3"/><circle cx="328.5" cy="282.3" r="3"/><circle cx="249.2" cy="302.6" r="3"/><circle cx="356.9" cy="286.1" r="3"/><circle cx="324.9" cy="281.1" r="3"/><circle cx="308.3" cy="269.2" r="3"/><circle cx="330.0" cy="230.0" r="3"/><circle cx="283.7" cy="277.3" r="3"/><circle cx="245.9" cy="287.3" r="3"/><circle cx="277.1" cy="289.4" r="3"/><circle cx="283.7" cy="251.7" r="3"/><circle cx="311.1" cy="273.7" r="3"/><circle cx="243.5" cy="306.3" r="3"/><circle cx="360.6" cy="268.5" r="3"/><circle cx="280.1" cy="278.9" r="3"/><circle cx="331.8" cy="292.5" r="3"/><circle cx="298.8" cy="274.5" r="3"/><circle cx="309.8" cy="284.9" r="3"/><circle cx="341.7" cy="239.0" r="3"/><circle cx="321.6" cy="282.4" r="3"/><circle cx="309.3" cy="267.8" r="3"/><circle cx="268.3" cy="275.6" r="3"/><circle cx="342.9" cy="271.0" r="3"/><circle cx="303.6" cy="256.3" r="3"/><circle cx="289.7" cy="292.4" r="3"/><circle cx="274.6" cy="261.6" r="3"/><circle cx="287.0" cy="303.5" r="3"/><circle cx="335.3" cy="273.8" r="3"/><circle cx="315.4" cy="247.9" r="3"/><circle cx="347.6" cy="271.4" r="3"/><circle cx="251.8" cy="303.0" r="3"/><circle cx="324.5" cy="287.0" r="3"/><circle cx="217.7" cy="298.1" r="3"/><circle cx="300.1" cy="267.3" r="3"/><circle cx="233.8" cy="271.4" r="3"/><circle cx="383.2" cy="250.3" r="3"/><circle cx="356.1" cy="254.6" r="3"/><circle cx="346.6" cy="289.8" r="3"/><circle cx="259.2" cy="293.6" r="3"/><circle cx="302.9" cy="274.3" r="3"/><circle cx="350.8" cy="242.8" r="3"/><circle cx="275.7" cy="257.4" r="3"/><circle cx="266.6" cy="292.5" r="3"/><circle cx="275.7" cy="300.4" r="3"/><circle cx="285.0" cy="270.0" r="3"/><circle cx="323.0" cy="252.5" r="3"/><circle cx="260.7" cy="293.5" r="3"/><circle cx="250.4" cy="294.8" r="3"/><circle cx="363.1" cy="223.2" r="3"/><circle cx="230.9" cy="286.8" r="3"/><circle cx="311.6" cy="239.5" r="3"/><circle cx="307.0" cy="269.4" r="3"/><circle cx="246.8" cy="308.8" r="3"/><circle cx="241.6" cy="285.3" r="3"/><circle cx="296.9" cy="270.2" r="3"/><circle cx="250.7" cy="276.5" r="3"/><circle cx="250.4" cy="304.5" r="3"/><circle cx="319.1" cy="267.6" r="3"/><circle cx="355.8" cy="248.6" r="3"/><circle cx="283.7" cy="294.7" r="3"/><circle cx="278.4" cy="296.4" r="3"/><circle cx="295.3" cy="266.0" r="3"/><circle cx="272.8" cy="279.9" r="3"/><circle cx="359.1" cy="233.3" r="3"/><circle cx="283.5" cy="294.3" r="3"/><circle cx="319.7" cy="268.6" r="3"/><circle cx="291.4" cy="293.6" r="3"/><circle cx="332.9" cy="291.5" r="3"/><circle cx="252.4" cy="285.5" r="3"/><circle cx="339.7" cy="275.5" r="3"/><circle cx="316.5" cy="309.0" r="3"/><circle cx="352.7" cy="277.8" r="3"/><circle cx="318.8" cy="255.3" r="3"/><circle cx="294.5" cy="302.7" r="3"/><circle cx="347.8" cy="267.7" r="3"/><circle cx="349.7" cy="272.5" r="3"/><circle cx="270.4" cy="283.8" r="3"/><circle cx="390.2" cy="248.6" r="3"/><circle cx="285.9" cy="294.5" r="3"/><circle cx="286.5" cy="290.1" r="3"/><circle cx="326.3" cy="295.3" r="3"/><circle cx="298.4" cy="298.7" r="3"/><circle cx="297.2" cy="273.3" r="3"/><circle cx="353.7" cy="281.3" r="3"/><circle cx="263.3" cy="290.8" r="3"/><circle cx="311.9" cy="288.4" r="3"/><circle cx="275.0" cy="303.2" r="3"/><circle cx="354.8" cy="238.6" r="3"/><circle cx="281.3" cy="265.6" r="3"/><circle cx="280.5" cy="292.1" r="3"/><circle cx="366.8" cy="274.9" r="3"/><circle cx="375.6" cy="255.7" r="3"/><circle cx="270.6" cy="291.0" r="3"/><circle cx="354.4" cy="289.7" r="3"/><circle cx="248.2" cy="275.7" r="3"/><circle cx="304.3" cy="289.5" r="3"/><circle cx="362.1" cy="256.5" r="3"/><circle cx="300.0" cy="305.4" r="3"/><circle cx="308.8" cy="293.2" r="3"/><circle cx="339.0" cy="272.8" r="3"/><circle cx="333.7" cy="227.9" r="3"/><circle cx="224.4" cy="295.1" r="3"/><circle cx="269.5" cy="275.1" r="3"/><circle cx="342.5" cy="244.5" r="3"/><circle cx="260.2" cy="285.2" r="3"/><circle cx="295.0" cy="278.6" r="3"/><circle cx="334.0" cy="232.2" r="3"/><circle cx="314.6" cy="287.0" r="3"/><circle cx="238.2" cy="276.6" r="3"/><circle cx="238.3" cy="300.9" r="3"/><circle cx="295.6" cy="293.4" r="3"/><circle cx="343.6" cy="243.4" r="3"/><circle cx="306.3" cy="285.0" r="3"/><circle cx="281.8" cy="294.8" r="3"/><circle cx="270.7" cy="273.2" r="3"/><circle cx="315.1" cy="259.8" r="3"/><circle cx="334.4" cy="273.9" r="3"/><circle cx="359.5" cy="230.3" r="3"/><circle cx="323.6" cy="266.3" r="3"/><circle cx="316.0" cy="226.9" r="3"/><circle cx="292.3" cy="265.5" r="3"/><circle cx="233.2" cy="302.9" r="3"/><circle cx="331.0" cy="287.1" r="3"/><circle cx="385.0" cy="265.4" r="3"/><circle cx="297.7" cy="280.7" r="3"/><circle cx="387.3" cy="248.2" r="3"/><circle cx="288.4" cy="277.9" r="3"/><circle cx="310.7" cy="256.5" r="3"/><circle cx="344.1" cy="260.5" r="3"/><circle cx="253.9" cy="272.8" r="3"/><circle cx="273.1" cy="277.9" r="3"/><circle cx="378.0" cy="231.3" r="3"/><circle cx="284.1" cy="291.5" r="3"/><circle cx="393.2" cy="233.8" r="3"/><circle cx="264.2" cy="292.2" r="3"/><circle cx="320.3" cy="271.3" r="3"/><circle cx="322.3" cy="239.6" r="3"/><circle cx="286.5" cy="258.5" r="3"/><circle cx="351.3" cy="244.2" r="3"/><circle cx="298.3" cy="296.1" r="3"/><circle cx="291.8" cy="279.6" r="3"/><circle cx="315.0" cy="239.8" r="3"/><circle cx="250.6" cy="304.8" r="3"/><circle cx="316.6" cy="276.1" r="3"/><circle cx="322.0" cy="253.0" r="3"/><circle cx="250.7" cy="307.4" r="3"/><circle cx="252.6" cy="268.8" r="3"/><circle cx="226.8" cy="307.1" r="3"/><circle cx="366.6" cy="272.3" r="3"/><circle cx="283.1" cy="277.0" r="3"/><circle cx="306.9" cy="248.8" r="3"/><circle cx="302.3" cy="245.4" r="3"/><circle cx="370.8" cy="252.3" r="3"/><circle cx="348.0" cy="265.5" r="3"/><circle cx="275.9" cy="285.3" r="3"/><circle cx="325.3" cy="274.2" r="3"/><circle cx="335.8" cy="276.0" r="3"/><circle cx="303.4" cy="253.0" r="3"/><circle cx="296.9" cy="277.5" r="3"/><circle cx="308.5" cy="250.3" r="3"/><circle cx="340.0" cy="293.6" r="3"/><circle cx="252.0" cy="276.4" r="3"/><circle cx="279.3" cy="278.7" r="3"/><circle cx="273.3" cy="265.4" r="3"/><circle cx="285.7" cy="281.5" r="3"/><circle cx="284.6" cy="286.0" r="3"/><circle cx="321.3" cy="252.8" r="3"/><circle cx="347.2" cy="227.0" r="3"/><circle cx="269.0" cy="292.9" r="3"/><circle cx="368.3" cy="234.6" r="3"/><circle cx="326.5" cy="240.7" r="3"/><circle cx="298.0" cy="271.6" r="3"/><circle cx="244.4" cy="300.0" r="3"/><circle cx="313.9" cy="280.9" r="3"/><circle cx="224.9" cy="310.3" r="3"/><circle cx="229.4" cy="280.4" r="3"/><circle cx="297.5" cy="254.4" r="3"/><circle cx="293.0" cy="282.8" r="3"/><circle cx="357.8" cy="272.2" r="3"/><circle cx="303.4" cy="294.1" r="3"/><circle cx="348.3" cy="300.1" r="3"/><circle cx="288.2" cy="299.5" r="3"/><circle cx="321.7" cy="245.3" r="3"/><circle cx="352.3" cy="256.6" r="3"/><circle cx="254.8" cy="297.5" r="3"/><circle cx="333.6" cy="268.1" r="3"/><circle cx="221.5" cy="291.6" r="3"/><circle cx="336.7" cy="304.4" r="3"/><circle cx="339.9" cy="282.8" r="3"/><circle cx="337.5" cy="216.3" r="3"/><circle cx="400.7" cy="246.2" r="3"/><circle cx="304.4" cy="281.2" r="3"/><circle cx="294.6" cy="272.4" r="3"/><circle cx="355.0" cy="239.8" r="3"/><circle cx="275.9" cy="286.3" r="3"/><circle cx="403.9" cy="245.0" r="3"/><circle cx="384.3" cy="239.7" r="3"/><circle cx="297.8" cy="280.4" r="3"/><circle cx="335.1" cy="264.3" r="3"/><circle cx="271.4" cy="294.6" r="3"/><circle cx="271.7" cy="259.4" r="3"/><circle cx="295.0" cy="254.7" r="3"/><circle cx="323.1" cy="258.8" r="3"/><circle cx="271.4" cy="301.9" r="3"/><circle cx="276.2" cy="291.0" r="3"/><circle cx="288.4" cy="283.1" r="3"/><circle cx="293.3" cy="275.4" r="3"/><circle cx="335.5" cy="285.6" r="3"/><circle cx="320.7" cy="293.8" r="3"/><circle cx="322.8" cy="255.0" r="3"/><circle cx="326.9" cy="233.6" r="3"/><circle cx="316.8" cy="276.6" r="3"/><circle cx="275.1" cy="272.1" r="3"/><circle cx="292.5" cy="269.2" r="3"/><circle cx="315.7" cy="274.6" r="3"/><circle cx="299.5" cy="248.8" r="3"/><circle cx="341.9" cy="237.8" r="3"/><circle cx="343.8" cy="263.0" r="3"/><circle cx="339.4" cy="282.6" r="3"/><circle cx="338.2" cy="275.1" r="3"/><circle cx="227.6" cy="306.5" r="3"/><circle cx="242.1" cy="279.0" r="3"/><circle cx="257.0" cy="288.5" r="3"/><circle cx="320.4" cy="242.0" r="3"/><circle cx="360.4" cy="248.3" r="3"/><circle cx="283.1" cy="288.1" r="3"/><circle cx="318.1" cy="289.4" r="3"/><circle cx="204.0" cy="300.0" r="3"/><circle cx="279.1" cy="284.8" r="3"/><circle cx="338.1" cy="271.0" r="3"/><circle cx="257.3" cy="297.2" r="3"/><circle cx="316.6" cy="286.4" r="3"/><circle cx="304.3" cy="253.6" r="3"/><circle cx="317.0" cy="261.8" r="3"/><circle cx="280.0" cy="299.1" r="3"/><circle cx="349.2" cy="234.7" r="3"/><circle cx="322.2" cy="277.4" r="3"/><circle cx="317.2" cy="286.0" r="3"/><circle cx="256.9" cy="304.0" r="3"/><circle cx="377.8" cy="261.3" r="3"/><circle cx="256.9" cy="303.9" r="3"/><circle cx="261.3" cy="282.1" r="3"/><circle cx="283.0" cy="251.8" r="3"/><circle cx="266.5" cy="264.8" r="3"/><circle cx="360.4" cy="272.4" r="3"/><circle cx="295.5" cy="278.0" r="3"/><circle cx="327.7" cy="280.3" r="3"/><circle cx="254.9" cy="294.8" r="3"/><circle cx="240.2" cy="303.9" r="3"/><circle cx="373.2" cy="245.4" r="3"/><circle cx="368.0" cy="257.9" r="3"/><circle cx="309.9" cy="270.7" r="3"/><circle cx="303.4" cy="275.4" r="3"/><circle cx="372.6" cy="262.6" r="3"/><circle cx="224.2" cy="294.4" r="3"/><circle cx="231.8" cy="286.0" r="3"/><circle cx="336.5" cy="236.9" r="3"/><circle cx="312.2" cy="267.0" r="3"/><circle cx="275.4" cy="292.5" r="3"/><circle cx="298.4" cy="271.4" r="3"/><circle cx="326.2" cy="232.8" r="3"/><circle cx="229.4" cy="298.8" r="3"/><circle cx="308.2" cy="268.3" r="3"/><circle cx="300.1" cy="268.6" r="3"/><circle cx="217.2" cy="298.6" r="3"/><circle cx="241.3" cy="304.2" r="3"/><circle cx="352.5" cy="268.5" r="3"/><circle cx="403.5" cy="240.5" r="3"/><circle cx="219.8" cy="299.5" r="3"/><circle cx="283.3" cy="271.3" r="3"/><circle cx="234.3" cy="310.5" r="3"/><circle cx="356.9" cy="270.8" r="3"/><circle cx="239.2" cy="287.7" r="3"/><circle cx="221.8" cy="304.3" r="3"/><circle cx="258.5" cy="267.6" r="3"/><circle cx="308.1" cy="246.2" r="3"/><circle cx="303.7" cy="277.4" r="3"/><circle cx="320.9" cy="292.6" r="3"/><circle cx="319.6" cy="275.9" r="3"/><circle cx="251.5" cy="271.6" r="3"/><circle cx="253.0" cy="281.7" r="3"/><circle cx="325.2" cy="253.8" r="3"/><circle cx="276.3" cy="286.7" r="3"/><circle cx="332.3" cy="247.3" r="3"/><circle cx="317.3" cy="264.2" r="3"/><circle cx="288.0" cy="264.7" r="3"/><circle cx="284.0" cy="279.8" r="3"/><circle cx="340.7" cy="307.0" r="3"/><circle cx="268.2" cy="305.9" r="3"/><circle cx="327.7" cy="296.1" r="3"/><circle cx="310.8" cy="263.0" r="3"/><circle cx="294.1" cy="260.6" r="3"/><circle cx="307.0" cy="288.2" r="3"/><circle cx="244.6" cy="301.4" r="3"/><circle cx="260.7" cy="288.1" r="3"/><circle cx="345.6" cy="246.6" r="3"/><circle cx="353.4" cy="286.1" r="3"/><circle cx="345.2" cy="294.5" r="3"/><circle cx="232.8" cy="280.5" r="3"/><circle cx="316.9" cy="263.9" r="3"/><circle cx="307.3" cy="275.7" r="3"/><circle cx="312.5" cy="229.2" r="3"/><circle cx="264.6" cy="301.9" r="3"/><circle cx="374.9" cy="247.8" r="3"/><circle cx="321.5" cy="278.3" r="3"/><circle cx="320.4" cy="240.2" r="3"/><circle cx="320.3" cy="310.5" r="3"/><circle cx="276.5" cy="304.1" r="3"/><circle cx="230.6" cy="307.3" r="3"/><circle cx="354.0" cy="214.8" r="3"/><circle cx="245.5" cy="311.7" r="3"/><circle cx="266.7" cy="278.0" r="3"/><circle cx="247.8" cy="287.2" r="3"/><circle cx="260.9" cy="282.9" r="3"/><circle cx="252.7" cy="295.3" r="3"/><circle cx="297.4" cy="276.7" r="3"/><circle cx="266.4" cy="285.2" r="3"/><circle cx="315.6" cy="239.9" r="3"/><circle cx="300.5" cy="278.3" r="3"/><circle cx="340.5" cy="283.3" r="3"/><circle cx="306.9" cy="290.7" r="3"/><circle cx="389.9" cy="249.2" r="3"/><circle cx="331.8" cy="239.7" r="3"/><circle cx="400.4" cy="234.8" r="3"/><circle cx="250.4" cy="299.9" r="3"/><circle cx="332.6" cy="264.8" r="3"/><circle cx="324.9" cy="279.2" r="3"/><circle cx="245.1" cy="301.7" r="3"/><circle cx="337.2" cy="274.2" r="3"/><circle cx="341.1" cy="228.4" r="3"/><circle cx="327.1" cy="270.3" r="3"/><circle cx="355.8" cy="256.2" r="3"/><circle cx="357.9" cy="235.3" r="3"/><circle cx="302.8" cy="263.7" r="3"/><circle cx="324.7" cy="256.9" r="3"/><circle cx="292.7" cy="266.2" r="3"/><circle cx="245.4" cy="270.2" r="3"/><circle cx="354.5" cy="233.5" r="3"/><circle cx="339.4" cy="272.4" r="3"/><circle cx="234.0" cy="277.6" r="3"/><circle cx="337.7" cy="230.0" r="3"/><circle cx="241.2" cy="280.1" r="3"/><circle cx="341.4" cy="280.6" r="3"/><circle cx="313.7" cy="265.0" r="3"/><circle cx="293.6" cy="258.6" r="3"/><circle cx="275.6" cy="268.5" r="3"/><circle cx="306.9" cy="309.8" r="3"/><circle cx="260.4" cy="261.2" r="3"/><circle cx="273.9" cy="288.8" r="3"/><circle cx="260.0" cy="275.9" r="3"/><circle cx="301.6" cy="276.0" r="3"/><circle cx="269.6" cy="283.7" r="3"/><circle cx="294.9" cy="269.5" r="3"/><circle cx="308.2" cy="283.3" r="3"/><circle cx="280.6" cy="291.1" r="3"/><circle cx="267.6" cy="261.3" r="3"/><circle cx="316.2" cy="291.4" r="3"/><circle cx="248.8" cy="303.6" r="3"/><circle cx="313.6" cy="235.1" r="3"/><circle cx="387.2" cy="246.7" r="3"/><circle cx="336.9" cy="252.9" r="3"/><circle cx="265.5" cy="289.9" r="3"/><circle cx="334.4" cy="286.0" r="3"/><circle cx="338.1" cy="261.6" r="3"/><circle cx="317.1" cy="285.8" r="3"/><circle cx="267.6" cy="286.8" r="3"/><circle cx="310.0" cy="266.6" r="3"/><circle cx="339.3" cy="254.8" r="3"/><circle cx="291.0" cy="241.5" r="3"/><circle cx="300.5" cy="280.9" r="3"/><circle cx="267.8" cy="309.5" r="3"/><circle cx="291.0" cy="274.9" r="3"/><circle cx="370.7" cy="255.0" r="3"/><circle cx="295.8" cy="305.3" r="3"/><circle cx="263.1" cy="284.6" r="3"/><circle cx="320.3" cy="280.3" r="3"/><circle cx="325.7" cy="278.5" r="3"/><circle cx="310.9" cy="255.8" r="3"/><circle cx="371.7" cy="257.3" r="3"/><circle cx="252.1" cy="300.4" r="3"/><circle cx="355.9" cy="264.5" r="3"/><circle cx="262.7" cy="262.2" r="3"/><circle cx="332.1" cy="254.3" r="3"/><circle cx="351.1" cy="236.5" r="3"/><circle cx="256.8" cy="267.6" r="3"/><circle cx="363.0" cy="242.2" r="3"/><circle cx="315.6" cy="309.1" r="3"/><circle cx="229.1" cy="301.9" r="3"/><circle cx="264.2" cy="270.3" r="3"/><circle cx="268.8" cy="294.7" r="3"/><circle cx="258.2" cy="284.1" r="3"/><circle cx="328.4" cy="303.3" r="3"/><circle cx="240.8" cy="299.1" r="3"/><circle cx="348.6" cy="259.8" r="3"/><circle cx="365.3" cy="268.4" r="3"/><circle cx="311.7" cy="281.4" r="3"/><circle cx="237.4" cy="290.0" r="3"/><circle cx="317.1" cy="266.1" r="3"/><circle cx="354.3" cy="261.5" r="3"/><circle cx="317.6" cy="236.8" r="3"/><circle cx="384.5" cy="246.7" r="3"/><circle cx="360.0" cy="268.0" r="3"/><circle cx="261.1" cy="297.6" r="3"/><circle cx="278.0" cy="284.1" r="3"/><circle cx="354.0" cy="229.6" r="3"/><circle cx="272.5" cy="271.8" r="3"/><circle cx="211.1" cy="302.5" r="3"/><circle cx="232.0" cy="289.3" r="3"/><circle cx="292.8" cy="293.6" r="3"/><circle cx="343.2" cy="250.0" r="3"/><circle cx="316.0" cy="257.4" r="3"/><circle cx="389.4" cy="243.8" r="3"/><circle cx="299.2" cy="265.7" r="3"/><circle cx="374.8" cy="243.4" r="3"/><circle cx="314.6" cy="264.6" r="3"/><circle cx="238.8" cy="297.6" r="3"/><circle cx="259.0" cy="294.0" r="3"/><circle cx="379.9" cy="253.8" r="3"/><circle cx="311.9" cy="293.8" r="3"/><circle cx="300.3" cy="270.3" r="3"/><circle cx="316.1" cy="292.6" r="3"/><circle cx="383.7" cy="261.0" r="3"/><circle cx="325.1" cy="236.5" r="3"/><circle cx="365.6" cy="285.1" r="3"/><circle cx="349.9" cy="251.2" r="3"/><circle cx="366.8" cy="240.2" r="3"/><circle cx="326.0" cy="225.3" r="3"/><circle cx="292.7" cy="256.0" r="3"/><circle cx="371.5" cy="237.4" r="3"/><circle cx="260.4" cy="276.4" r="3"/><circle cx="297.2" cy="284.6" r="3"/><circle cx="374.1" cy="232.0" r="3"/><circle cx="392.0" cy="263.0" r="3"/><circle cx="279.8" cy="278.6" r="3"/><circle cx="375.7" cy="247.9" r="3"/><circle cx="270.6" cy="284.1" r="3"/><circle cx="342.1" cy="242.5" r="3"/><circle cx="377.3" cy="228.3" r="3"/><circle cx="244.4" cy="298.1" r="3"/><circle cx="273.3" cy="283.1" r="3"/><circle cx="400.2" cy="248.1" r="3"/><circle cx="319.2" cy="266.1" r="3"/><circle cx="358.6" cy="291.8" r="3"/><circle cx="329.4" cy="271.4" r="3"/><circle cx="278.0" cy="257.3" r="3"/><circle cx="279.0" cy="285.2" r="3"/><circle cx="308.5" cy="281.2" r="3"/><circle cx="327.6" cy="287.0" r="3"/><circle cx="312.6" cy="244.2" r="3"/><circle cx="313.2" cy="285.8" r="3"/><circle cx="359.5" cy="253.9" r="3"/><circle cx="344.0" cy="281.1" r="3"/><circle cx="286.4" cy="245.8" r="3"/><circle cx="325.9" cy="246.2" r="3"/><circle cx="283.5" cy="289.5" r="3"/><circle cx="380.6" cy="252.3" r="3"/><circle cx="276.6" cy="279.6" r="3"/><circle cx="342.7" cy="290.5" r="3"/><circle cx="281.0" cy="295.8" r="3"/><circle cx="341.8" cy="277.7" r="3"/><circle cx="267.4" cy="276.4" r="3"/><circle cx="305.1" cy="291.4" r="3"/><circle cx="313.8" cy="281.3" r="3"/><circle cx="255.9" cy="262.7" r="3"/><circle cx="339.8" cy="287.9" r="3"/><circle cx="256.6" cy="301.6" r="3"/><circle cx="296.7" cy="278.7" r="3"/><circle cx="365.5" cy="293.7" r="3"/><circle cx="357.1" cy="278.1" r="3"/><circle cx="302.1" cy="280.8" r="3"/><circle cx="293.2" cy="266.6" r="3"/><circle cx="387.6" cy="225.3" r="3"/><circle cx="305.6" cy="284.3" r="3"/><circle cx="284.6" cy="288.6" r="3"/><circle cx="355.3" cy="226.8" r="3"/><circle cx="331.2" cy="265.8" r="3"/><circle cx="291.8" cy="267.4" r="3"/><circle cx="329.8" cy="226.9" r="3"/><circle cx="355.9" cy="230.6" r="3"/><circle cx="241.1" cy="272.2" r="3"/><circle cx="308.0" cy="250.6" r="3"/><circle cx="321.9" cy="260.0" r="3"/><circle cx="342.8" cy="236.0" r="3"/><circle cx="273.4" cy="291.6" r="3"/><circle cx="313.9" cy="256.5" r="3"/><circle cx="352.3" cy="275.1" r="3"/><circle cx="317.8" cy="262.8" r="3"/><circle cx="259.7" cy="296.5" r="3"/><circle cx="237.9" cy="272.8" r="3"/><circle cx="349.4" cy="271.7" r="3"/><circle cx="395.7" cy="243.3" r="3"/><circle cx="272.5" cy="293.5" r="3"/><circle cx="256.0" cy="302.1" r="3"/><circle cx="281.0" cy="279.8" r="3"/><circle cx="332.1" cy="261.6" r="3"/><circle cx="239.7" cy="291.3" r="3"/><circle cx="351.0" cy="254.7" r="3"/><circle cx="270.3" cy="260.8" r="3"/><circle cx="231.2" cy="283.1" r="3"/><circle cx="337.7" cy="243.1" r="3"/><circle cx="337.3" cy="246.3" r="3"/><circle cx="345.8" cy="275.2" r="3"/><circle cx="275.2" cy="274.1" r="3"/><circle cx="323.2" cy="286.6" r="3"/><circle cx="294.2" cy="285.1" r="3"/><circle cx="257.0" cy="287.9" r="3"/><circle cx="241.1" cy="282.7" r="3"/><circle cx="336.9" cy="264.4" r="3"/><circle cx="258.5" cy="284.0" r="3"/><circle cx="248.9" cy="305.5" r="3"/><circle cx="326.2" cy="235.8" r="3"/><circle cx="268.0" cy="294.6" r="3"/><circle cx="353.7" cy="277.8" r="3"/><circle cx="303.6" cy="241.8" r="3"/><circle cx="360.0" cy="257.3" r="3"/><circle cx="231.7" cy="309.7" r="3"/><circle cx="292.0" cy="292.7" r="3"/><circle cx="257.2" cy="299.7" r="3"/><circle cx="295.8" cy="241.1" r="3"/><circle cx="309.9" cy="276.2" r="3"/><circle cx="374.3" cy="281.8" r="3"/><circle cx="329.8" cy="240.2" r="3"/><circle cx="318.1" cy="268.4" r="3"/><circle cx="336.3" cy="274.2" r="3"/><circle cx="320.9" cy="292.3" r="3"/><circle cx="251.4" cy="271.0" r="3"/><circle cx="236.1" cy="290.2" r="3"/><circle cx="337.8" cy="263.9" r="3"/><circle cx="361.0" cy="270.6" r="3"/><circle cx="326.5" cy="254.1" r="3"/><circle cx="243.1" cy="282.2" r="3"/><circle cx="351.4" cy="248.1" r="3"/><circle cx="333.3" cy="286.1" r="3"/><circle cx="287.8" cy="292.0" r="3"/><circle cx="292.0" cy="281.5" r="3"/><circle cx="352.4" cy="243.2" r="3"/><circle cx="355.6" cy="288.7" r="3"/><circle cx="367.8" cy="256.5" r="3"/><circle cx="334.9" cy="288.1" r="3"/><circle cx="281.6" cy="291.2" r="3"/><circle cx="328.3" cy="254.3" r="3"/><circle cx="334.3" cy="281.0" r="3"/><circle cx="378.5" cy="237.1" r="3"/><circle cx="378.8" cy="247.7" r="3"/><circle cx="307.7" cy="269.5" r="3"/><circle cx="310.1" cy="268.7" r="3"/><circle cx="267.1" cy="302.3" r="3"/><circle cx="344.4" cy="286.9" r="3"/><circle cx="239.1" cy="292.9" r="3"/><circle cx="257.4" cy="256.7" r="3"/><circle cx="342.6" cy="217.7" r="3"/><circle cx="345.6" cy="259.2" r="3"/><circle cx="285.3" cy="273.3" r="3"/><circle cx="346.8" cy="249.4" r="3"/><circle cx="338.7" cy="292.9" r="3"/><circle cx="294.2" cy="262.2" r="3"/><circle cx="274.4" cy="291.5" r="3"/><circle cx="371.3" cy="258.2" r="3"/><circle cx="259.0" cy="277.3" r="3"/><circle cx="240.1" cy="281.2" r="3"/><circle cx="332.3" cy="261.2" r="3"/><circle cx="288.5" cy="298.5" r="3"/><circle cx="259.0" cy="291.3" r="3"/><circle cx="241.8" cy="302.7" r="3"/><circle cx="313.6" cy="284.5" r="3"/><circle cx="277.6" cy="272.8" r="3"/><circle cx="329.0" cy="250.1" r="3"/><circle cx="307.0" cy="246.1" r="3"/><circle cx="349.2" cy="252.1" r="3"/><circle cx="274.7" cy="305.7" r="3"/><circle cx="377.5" cy="250.9" r="3"/><circle cx="366.9" cy="243.3" r="3"/><circle cx="390.2" cy="265.6" r="3"/><circle cx="252.2" cy="294.3" r="3"/><circle cx="270.6" cy="291.7" r="3"/><circle cx="232.9" cy="272.7" r="3"/><circle cx="319.5" cy="274.5" r="3"/><circle cx="302.1" cy="301.8" r="3"/><circle cx="272.4" cy="303.4" r="3"/><circle cx="276.3" cy="256.1" r="3"/><circle cx="296.6" cy="286.0" r="3"/><circle cx="282.8" cy="305.5" r="3"/><circle cx="379.0" cy="273.3" r="3"/><circle cx="334.8" cy="248.6" r="3"/><circle cx="262.7" cy="266.9" r="3"/><circle cx="365.4" cy="244.1" r="3"/><circle cx="295.8" cy="289.6" r="3"/><circle cx="303.6" cy="260.8" r="3"/><circle cx="359.9" cy="274.9" r="3"/><circle cx="285.4" cy="286.2" r="3"/><circle cx="362.9" cy="266.6" r="3"/><circle cx="314.3" cy="283.1" r="3"/><circle cx="358.1" cy="234.7" r="3"/><circle cx="314.8" cy="289.9" r="3"/><circle cx="308.8" cy="282.7" r="3"/><circle cx="323.0" cy="257.0" r="3"/><circle cx="322.9" cy="274.7" r="3"/><circle cx="339.3" cy="261.0" r="3"/><circle cx="400.9" cy="241.7" r="3"/><circle cx="320.6" cy="261.3" r="3"/><circle cx="261.5" cy="272.6" r="3"/><circle cx="347.8" cy="255.4" r="3"/><circle cx="337.3" cy="258.5" r="3"/><circle cx="276.5" cy="252.5" r="3"/><circle cx="223.7" cy="297.5" r="3"/><circle cx="336.2" cy="224.2" r="3"/><circle cx="232.6" cy="293.5" r="3"/><circle cx="266.7" cy="300.5" r="3"/><circle cx="337.3" cy="242.7" r="3"/><circle cx="337.6" cy="256.3" r="3"/><circle cx="290.6" cy="251.0" r="3"/><circle cx="331.9" cy="270.8" r="3"/><circle cx="293.3" cy="248.9" r="3"/><circle cx="280.0" cy="289.0" r="3"/><circle cx="337.6" cy="265.0" r="3"/><circle cx="313.6" cy="252.9" r="3"/><circle cx="388.8" cy="250.5" r="3"/><circle cx="293.5" cy="285.4" r="3"/><circle cx="333.2" cy="267.7" r="3"/><circle cx="260.0" cy="300.6" r="3"/><circle cx="229.4" cy="291.3" r="3"/><circle cx="243.9" cy="296.3" r="3"/><circle cx="314.6" cy="282.4" r="3"/><circle cx="360.1" cy="266.3" r="3"/><circle cx="391.2" cy="219.2" r="3"/><circle cx="295.0" cy="248.2" r="3"/><circle cx="343.9" cy="239.2" r="3"/><circle cx="300.7" cy="289.5" r="3"/><circle cx="278.2" cy="291.9" r="3"/><circle cx="285.5" cy="271.9" r="3"/><circle cx="398.6" cy="235.7" r="3"/><circle cx="318.9" cy="228.8" r="3"/><circle cx="259.1" cy="278.1" r="3"/><circle cx="268.2" cy="279.8" r="3"/><circle cx="364.5" cy="256.1" r="3"/><circle cx="299.2" cy="263.0" r="3"/><circle cx="222.8" cy="296.9" r="3"/><circle cx="356.6" cy="273.9" r="3"/><circle cx="356.5" cy="263.5" r="3"/><circle cx="355.9" cy="256.1" r="3"/><circle cx="347.0" cy="215.4" r="3"/><circle cx="334.7" cy="272.2" r="3"/><circle cx="296.7" cy="285.8" r="3"/><circle cx="383.9" cy="264.6" r="3"/><circle cx="352.0" cy="231.5" r="3"/><circle cx="305.6" cy="277.3" r="3"/><circle cx="306.1" cy="239.3" r="3"/><circle cx="241.6" cy="266.4" r="3"/><circle cx="306.0" cy="271.7" r="3"/><circle cx="305.7" cy="258.3" r="3"/><circle cx="309.5" cy="271.4" r="3"/><circle cx="297.2" cy="286.2" r="3"/><circle cx="393.2" cy="254.9" r="3"/><circle cx="344.3" cy="249.5" r="3"/><circle cx="284.8" cy="281.8" r="3"/><circle cx="271.8" cy="295.4" r="3"/><circle cx="281.8" cy="300.0" r="3"/><circle cx="321.6" cy="276.7" r="3"/><circle cx="242.5" cy="303.1" r="3"/><circle cx="299.3" cy="254.3" r="3"/><circle cx="242.9" cy="307.7" r="3"/><circle cx="380.5" cy="239.3" r="3"/><circle cx="271.3" cy="313.5" r="3"/><circle cx="265.8" cy="304.4" r="3"/><circle cx="273.5" cy="284.0" r="3"/><circle cx="266.8" cy="278.0" r="3"/><circle cx="336.1" cy="270.0" r="3"/><circle cx="275.9" cy="281.0" r="3"/><circle cx="297.2" cy="262.8" r="3"/><circle cx="260.0" cy="304.9" r="3"/><circle cx="234.3" cy="291.4" r="3"/><circle cx="248.0" cy="269.6" r="3"/><circle cx="349.7" cy="278.5" r="3"/><circle cx="337.7" cy="255.7" r="3"/><circle cx="336.3" cy="214.5" r="3"/><circle cx="234.0" cy="292.5" r="3"/><circle cx="289.0" cy="292.9" r="3"/><circle cx="332.3" cy="277.1" r="3"/><circle cx="246.6" cy="296.2" r="3"/><circle cx="283.6" cy="305.1" r="3"/><circle cx="323.9" cy="255.0" r="3"/><circle cx="312.6" cy="251.1" r="3"/><circle cx="238.5" cy="302.4" r="3"/><circle cx="262.0" cy="277.5" r="3"/><circle cx="306.3" cy="277.9" r="3"/><circle cx="337.9" cy="264.5" r="3"/><circle cx="211.5" cy="310.2" r="3"/><circle cx="316.1" cy="257.6" r="3"/><circle cx="297.0" cy="288.9" r="3"/><circle cx="266.9" cy="255.5" r="3"/><circle cx="327.6" cy="279.4" r="3"/><circle cx="344.0" cy="272.9" r="3"/><circle cx="279.1" cy="291.9" r="3"/><circle cx="332.9" cy="258.7" r="3"/><circle cx="342.8" cy="269.1" r="3"/><circle cx="349.2" cy="272.8" r="3"/><circle cx="309.1" cy="252.1" r="3"/><circle cx="299.6" cy="265.0" r="3"/><circle cx="293.0" cy="288.4" r="3"/><circle cx="264.6" cy="295.0" r="3"/><circle cx="297.0" cy="268.2" r="3"/><circle cx="350.2" cy="269.7" r="3"/><circle cx="277.1" cy="280.1" r="3"/><circle cx="365.8" cy="261.6" r="3"/><circle cx="269.8" cy="299.9" r="3"/><circle cx="324.2" cy="308.6" r="3"/><circle cx="287.9" cy="249.9" r="3"/><circle cx="330.1" cy="296.2" r="3"/><circle cx="296.6" cy="275.3" r="3"/><circle cx="349.3" cy="257.0" r="3"/><circle cx="312.6" cy="265.5" r="3"/><circle cx="237.2" cy="301.1" r="3"/><circle cx="236.6" cy="261.6" r="3"/><circle cx="249.9" cy="288.0" r="3"/><circle cx="291.6" cy="261.5" r="3"/><circle cx="312.1" cy="277.8" r="3"/><circle cx="294.8" cy="293.9" r="3"/><circle cx="281.8" cy="280.6" r="3"/><circle cx="351.1" cy="277.1" r="3"/><circle cx="234.0" cy="297.3" r="3"/><circle cx="266.3" cy="287.6" r="3"/><circle cx="332.1" cy="223.9" r="3"/><circle cx="367.9" cy="243.1" r="3"/><circle cx="223.5" cy="281.6" r="3"/><circle cx="269.1" cy="284.8" r="3"/><circle cx="246.3" cy="287.2" r="3"/><circle cx="265.8" cy="297.2" r="3"/><circle cx="339.3" cy="276.5" r="3"/><circle cx="282.6" cy="311.4" r="3"/><circle cx="349.8" cy="257.5" r="3"/><circle cx="332.3" cy="292.4" r="3"/><circle cx="266.2" cy="287.2" r="3"/><circle cx="304.3" cy="281.0" r="3"/><circle cx="332.1" cy="250.4" r="3"/><circle cx="386.4" cy="245.4" r="3"/><circle cx="294.4" cy="292.7" r="3"/><circle cx="332.9" cy="287.7" r="3"/><circle cx="225.2" cy="284.5" r="3"/><circle cx="244.6" cy="285.8" r="3"/><circle cx="336.8" cy="294.6" r="3"/><circle cx="262.5" cy="288.3" r="3"/><circle cx="277.0" cy="303.1" r="3"/><circle cx="236.9" cy="290.2" r="3"/><circle cx="321.0" cy="281.9" r="3"/><circle cx="303.8" cy="264.9" r="3"/><circle cx="292.1" cy="281.5" r="3"/><circle cx="307.2" cy="281.6" r="3"/><circle cx="276.2" cy="300.9" r="3"/><circle cx="331.5" cy="249.8" r="3"/><circle cx="305.1" cy="266.8" r="3"/><circle cx="237.9" cy="278.2" r="3"/><circle cx="322.5" cy="290.4" r="3"/><circle cx="299.8" cy="285.7" r="3"/><circle cx="317.9" cy="288.6" r="3"/><circle cx="360.3" cy="279.5" r="3"/><circle cx="279.7" cy="293.0" r="3"/><circle cx="321.2" cy="278.4" r="3"/><circle cx="275.7" cy="294.6" r="3"/><circle cx="245.0" cy="309.0" r="3"/><circle cx="302.9" cy="278.8" r="3"/><circle cx="253.2" cy="285.6" r="3"/><circle cx="349.0" cy="241.4" r="3"/><circle cx="340.1" cy="243.2" r="3"/><circle cx="288.7" cy="274.8" r="3"/><circle cx="376.8" cy="250.7" r="3"/><circle cx="273.7" cy="294.1" r="3"/><circle cx="349.4" cy="251.4" r="3"/><circle cx="329.1" cy="233.4" r="3"/><circle cx="372.2" cy="260.5" r="3"/><circle cx="239.6" cy="305.1" r="3"/><circle cx="306.5" cy="275.2" r="3"/><circle cx="388.4" cy="251.9" r="3"/><circle cx="308.1" cy="288.0" r="3"/><circle cx="252.6" cy="283.7" r="3"/><circle cx="360.2" cy="263.6" r="3"/><circle cx="313.8" cy="278.1" r="3"/><circle cx="271.2" cy="309.3" r="3"/><circle cx="320.9" cy="230.8" r="3"/><circle cx="267.0" cy="273.5" r="3"/><circle cx="303.0" cy="271.3" r="3"/><circle cx="245.6" cy="304.5" r="3"/><circle cx="276.5" cy="304.2" r="3"/><circle cx="362.5" cy="237.3" r="3"/><circle cx="331.7" cy="251.9" r="3"/><circle cx="333.8" cy="256.7" r="3"/><circle cx="318.3" cy="302.0" r="3"/><circle cx="336.4" cy="271.0" r="3"/><circle cx="340.2" cy="272.0" r="3"/><circle cx="241.5" cy="301.8" r="3"/><circle cx="318.3" cy="219.6" r="3"/><circle cx="252.5" cy="299.1" r="3"/><circle cx="346.4" cy="300.7" r="3"/><circle cx="365.8" cy="256.7" r="3"/><circle cx="312.5" cy="295.6" r="3"/><circle cx="327.5" cy="225.9" r="3"/><circle cx="342.4" cy="235.2" r="3"/><circle cx="216.0" cy="305.8" r="3"/><circle cx="301.5" cy="271.1" r="3"/><circle cx="291.0" cy="283.1" r="3"/><circle cx="301.3" cy="304.3" r="3"/><circle cx="322.8" cy="278.0" r="3"/><circle cx="323.2" cy="289.6" r="3"/><circle cx="317.5" cy="251.1" r="3"/><circle cx="321.3" cy="228.1" r="3"/><circle cx="377.1" cy="254.7" r="3"/><circle cx="343.2" cy="269.5" r="3"/><circle cx="351.8" cy="268.5" r="3"/><circle cx="349.7" cy="260.9" r="3"/><circle cx="304.1" cy="260.9" r="3"/><circle cx="309.8" cy="296.4" r="3"/><circle cx="326.1" cy="289.8" r="3"/><circle cx="320.7" cy="281.2" r="3"/><circle cx="323.1" cy="223.9" r="3"/><circle cx="217.2" cy="304.3" r="3"/><circle cx="300.4" cy="294.0" r="3"/><circle cx="316.1" cy="281.5" r="3"/><circle cx="349.7" cy="269.2" r="3"/><circle cx="240.6" cy="294.5" r="3"/><circle cx="289.3" cy="277.7" r="3"/><circle cx="276.1" cy="291.2" r="3"/><circle cx="307.3" cy="273.0" r="3"/><circle cx="342.1" cy="269.8" r="3"/><circle cx="296.6" cy="281.0" r="3"/><circle cx="249.5" cy="284.8" r="3"/><circle cx="312.7" cy="242.3" r="3"/><circle cx="311.0" cy="295.4" r="3"/><circle cx="295.6" cy="294.7" r="3"/><circle cx="280.6" cy="295.2" r="3"/><circle cx="305.4" cy="290.1" r="3"/><circle cx="256.6" cy="270.5" r="3"/><circle cx="328.1" cy="281.8" r="3"/><circle cx="267.0" cy="292.1" r="3"/><circle cx="366.9" cy="241.4" r="3"/><circle cx="326.3" cy="252.6" r="3"/><circle cx="364.2" cy="252.4" r="3"/><circle cx="347.1" cy="261.3" r="3"/><circle cx="335.6" cy="257.9" r="3"/><circle cx="316.4" cy="278.7" r="3"/><circle cx="300.7" cy="265.8" r="3"/><circle cx="258.4" cy="256.5" r="3"/><circle cx="318.9" cy="273.2" r="3"/><circle cx="294.8" cy="272.6" r="3"/><circle cx="264.1" cy="295.4" r="3"/><circle cx="268.3" cy="292.1" r="3"/><circle cx="310.3" cy="238.3" r="3"/><circle cx="279.0" cy="258.7" r="3"/><circle cx="385.2" cy="254.6" r="3"/><circle cx="306.7" cy="284.3" r="3"/><circle cx="353.9" cy="257.1" r="3"/><circle cx="271.7" cy="305.2" r="3"/><circle cx="331.1" cy="265.0" r="3"/><circle cx="280.3" cy="302.2" r="3"/><circle cx="304.0" cy="251.6" r="3"/><circle cx="251.9" cy="284.1" r="3"/><circle cx="256.3" cy="298.5" r="3"/><circle cx="318.3" cy="302.9" r="3"/><circle cx="267.2" cy="269.0" r="3"/><circle cx="363.1" cy="282.4" r="3"/><circle cx="398.3" cy="249.6" r="3"/><circle cx="279.7" cy="275.7" r="3"/><circle cx="322.2" cy="285.4" r="3"/><circle cx="365.9" cy="290.8" r="3"/><circle cx="338.9" cy="274.9" r="3"/><circle cx="272.0" cy="295.0" r="3"/><circle cx="345.6" cy="231.5" r="3"/><circle cx="291.3" cy="271.3" r="3"/><circle cx="227.0" cy="312.6" r="3"/><circle cx="218.5" cy="294.5" r="3"/><circle cx="272.3" cy="297.7" r="3"/><circle cx="364.1" cy="284.1" r="3"/><circle cx="297.1" cy="297.2" r="3"/><circle cx="387.8" cy="267.8" r="3"/><circle cx="329.6" cy="259.6" r="3"/><circle cx="344.5" cy="267.6" r="3"/><circle cx="297.9" cy="281.1" r="3"/><circle cx="299.3" cy="286.6" r="3"/><circle cx="279.0" cy="305.3" r="3"/><circle cx="318.1" cy="286.2" r="3"/><circle cx="321.4" cy="278.6" r="3"/><circle cx="372.9" cy="264.4" r="3"/><circle cx="271.2" cy="282.9" r="3"/><circle cx="238.6" cy="277.1" r="3"/><circle cx="305.5" cy="301.9" r="3"/><circle cx="253.5" cy="294.4" r="3"/><circle cx="264.4" cy="264.9" r="3"/><circle cx="279.4" cy="254.5" r="3"/><circle cx="272.3" cy="282.4" r="3"/><circle cx="367.8" cy="261.8" r="3"/><circle cx="398.2" cy="246.9" r="3"/><circle cx="274.1" cy="298.5" r="3"/><circle cx="305.1" cy="241.0" r="3"/><circle cx="332.8" cy="285.3" r="3"/><circle cx="291.7" cy="281.1" r="3"/><circle cx="282.6" cy="288.1" r="3"/><circle cx="253.7" cy="305.3" r="3"/><circle cx="334.7" cy="244.3" r="3"/><circle cx="315.0" cy="276.8" r="3"/><circle cx="362.0" cy="283.9" r="3"/><circle cx="361.0" cy="279.5" r="3"/><circle cx="249.0" cy="296.2" r="3"/><circle cx="375.4" cy="240.3" r="3"/><circle cx="245.5" cy="289.5" r="3"/><circle cx="316.9" cy="242.2" r="3"/><circle cx="296.8" cy="268.1" r="3"/><circle cx="303.8" cy="266.6" r="3"/><circle cx="339.1" cy="285.0" r="3"/><circle cx="314.4" cy="282.7" r="3"/><circle cx="291.7" cy="297.8" r="3"/><circle cx="385.2" cy="231.8" r="3"/><circle cx="394.7" cy="255.2" r="3"/><circle cx="283.4" cy="281.1" r="3"/><circle cx="268.4" cy="288.1" r="3"/><circle cx="256.7" cy="281.2" r="3"/><circle cx="315.5" cy="277.1" r="3"/><circle cx="369.0" cy="274.1" r="3"/><circle cx="305.4" cy="305.5" r="3"/><circle cx="377.0" cy="246.7" r="3"/><circle cx="340.0" cy="291.6" r="3"/><circle cx="242.1" cy="276.9" r="3"/><circle cx="331.4" cy="282.2" r="3"/><circle cx="334.2" cy="274.6" r="3"/><circle cx="330.1" cy="243.6" r="3"/><circle cx="301.1" cy="265.3" r="3"/><circle cx="354.0" cy="258.9" r="3"/><circle cx="248.1" cy="313.3" r="3"/><circle cx="352.2" cy="277.7" r="3"/><circle cx="297.9" cy="248.8" r="3"/><circle cx="351.4" cy="242.4" r="3"/><circle cx="316.9" cy="285.8" r="3"/><circle cx="288.2" cy="292.3" r="3"/><circle cx="339.3" cy="302.3" r="3"/><circle cx="348.3" cy="297.4" r="3"/><circle cx="328.9" cy="301.8" r="3"/><circle cx="308.7" cy="299.8" r="3"/><circle cx="317.2" cy="309.1" r="3"/><circle cx="292.4" cy="304.8" r="3"/><circle cx="353.0" cy="297.0" r="3"/><circle cx="316.2" cy="301.6" r="3"/><circle cx="324.9" cy="297.5" r="3"/><circle cx="336.6" cy="294.3" r="3"/><circle cx="352.0" cy="297.4" r="3"/><circle cx="301.9" cy="303.0" r="3"/><circle cx="320.0" cy="308.7" r="3"/><circle cx="335.6" cy="300.5" r="3"/><circle cx="326.8" cy="308.9" r="3"/><circle cx="313.0" cy="301.9" r="3"/><circle cx="297.3" cy="308.0" r="3"/><circle cx="352.1" cy="293.5" r="3"/><circle cx="340.3" cy="304.5" r="3"/><circle cx="320.2" cy="308.0" r="3"/><circle cx="298.2" cy="306.7" r="3"/><circle cx="336.2" cy="298.8" r="3"/><circle cx="329.7" cy="296.4" r="3"/><circle cx="329.6" cy="300.0" r="3"/><circle cx="301.4" cy="301.8" r="3"/><circle cx="347.4" cy="291.7" r="3"/><circle cx="331.2" cy="295.8" r="3"/><circle cx="292.6" cy="304.6" r="3"/><circle cx="330.7" cy="297.9" r="3"/><circle cx="305.6" cy="303.0" r="3"/><circle cx="313.5" cy="305.4" r="3"/><circle cx="333.6" cy="300.3" r="3"/><circle cx="296.9" cy="306.6" r="3"/><circle cx="297.8" cy="300.0" r="3"/><circle cx="306.7" cy="299.2" r="3"/><circle cx="298.9" cy="304.6" r="3"/><circle cx="301.5" cy="304.6" r="3"/><circle cx="326.3" cy="304.7" r="3"/><circle cx="332.4" cy="308.4" r="3"/><circle cx="342.1" cy="295.6" r="3"/><circle cx="315.8" cy="307.0" r="3"/><circle cx="354.9" cy="295.4" r="3"/><circle cx="338.7" cy="294.5" r="3"/><circle cx="338.0" cy="297.6" r="3"/><circle cx="346.7" cy="290.8" r="3"/><circle cx="302.0" cy="299.3" r="3"/><circle cx="293.8" cy="296.1" r="3"/><circle cx="304.2" cy="307.5" r="3"/><circle cx="328.8" cy="298.3" r="3"/><circle cx="290.6" cy="300.1" r="3"/><circle cx="352.0" cy="289.7" r="3"/><circle cx="335.1" cy="307.9" r="3"/><circle cx="308.3" cy="296.8" r="3"/><circle cx="297.6" cy="297.8" r="3"/><circle cx="304.8" cy="296.8" r="3"/><circle cx="310.2" cy="298.2" r="3"/><circle cx="330.0" cy="296.1" r="3"/><circle cx="331.5" cy="296.3" r="3"/><circle cx="324.9" cy="298.1" r="3"/><circle cx="330.9" cy="305.0" r="3"/><circle cx="299.2" cy="305.3" r="3"/><circle cx="356.0" cy="290.0" r="3"/><circle cx="314.3" cy="299.4" r="3"/><circle cx="309.0" cy="305.3" r="3"/><circle cx="353.1" cy="290.7" r="3"/><circle cx="316.9" cy="302.6" r="3"/><circle cx="298.4" cy="302.9" r="3"/><circle cx="293.6" cy="298.8" r="3"/><circle cx="298.8" cy="302.5" r="3"/><circle cx="318.6" cy="306.2" r="3"/><circle cx="325.0" cy="298.6" r="3"/><circle cx="320.4" cy="306.5" r="3"/><circle cx="317.1" cy="305.2" r="3"/><circle cx="350.5" cy="288.1" r="3"/><circle cx="320.0" cy="296.9" r="3"/><circle cx="328.4" cy="306.8" r="3"/><circle cx="305.7" cy="305.1" r="3"/><circle cx="346.4" cy="300.8" r="3"/><circle cx="317.1" cy="298.9" r="3"/><circle cx="353.4" cy="298.0" r="3"/><circle cx="329.5" cy="298.4" r="3"/><circle cx="291.7" cy="305.0" r="3"/><circle cx="297.3" cy="308.5" r="3"/><circle cx="290.5" cy="300.2" r="3"/><circle cx="307.9" cy="303.1" r="3"/><circle cx="333.8" cy="304.7" r="3"/><circle cx="323.9" cy="309.2" r="3"/><circle cx="295.5" cy="306.2" r="3"/><circle cx="321.9" cy="307.1" r="3"/><circle cx="298.2" cy="307.1" r="3"/><circle cx="395.6" cy="58" r="3"/><circle cx="422.5" cy="68" r="3"/><circle cx="302" cy="95.4" r="3"/><circle cx="339.4" cy="95.2" r="3"/><circle cx="393.2" cy="99.6" r="3"/><circle cx="398.5" cy="102.2" r="3"/><circle cx="339.3" cy="137.8" r="3"/><circle cx="330.7" cy="150.2" r="3"/><circle cx="323.5" cy="155.2" r="3"/><circle cx="347.8" cy="156.7" r="3"/><circle cx="372.2" cy="141.5" r="3"/><circle cx="367.3" cy="148.7" r="3"/><circle cx="390.7" cy="146.5" r="3"/><circle cx="390.5" cy="156.7" r="3"/><circle cx="379.2" cy="158" r="3"/><circle cx="373.8" cy="160" r="3"/><circle cx="364.2" cy="162.2" r="3"/><circle cx="361.7" cy="166.7" r="3"/><circle cx="357" cy="167.8" r="3"/><circle cx="399.5" cy="155" r="3"/><circle cx="391.3" cy="168.7" r="3"/><circle cx="399.7" cy="138" r="3"/><circle cx="349.5" cy="171" r="3"/><circle cx="435" cy="133.5" r="3"/><circle cx="402.7" cy="138.2" r="3"/><circle cx="443.5" cy="149.7" r="3"/><circle cx="430.2" cy="153" r="3"/><circle cx="407" cy="152.3" r="3"/><circle cx="405.3" cy="153.3" r="3"/><circle cx="418.7" cy="156.8" r="3"/><circle cx="452.3" cy="166.4" r="3"/><circle cx="414.3" cy="171.5" r="3"/><circle cx="404.3" cy="175" r="3"/><circle cx="423" cy="179.3" r="3"/><circle cx="409.2" cy="180.3" r="3"/><circle cx="396.2" cy="182.2" r="3"/><circle cx="407.8" cy="184.8" r="3"/><circle cx="422.8" cy="185.8" r="3"/><circle cx="428.5" cy="186.3" r="3"/><circle cx="426.7" cy="191" r="3"/><circle cx="406.8" cy="191.2" r="3"/><circle cx="416.2" cy="192" r="3"/><circle cx="418" cy="193.8" r="3"/><circle cx="410.8" cy="194.7" r="3"/><circle cx="438.3" cy="193.5" r="3"/><circle cx="397.3" cy="196.3" r="3"/><circle cx="402.2" cy="200" r="3"/><circle cx="405.3" cy="201.3" r="3"/><circle cx="418.3" cy="202.3" r="3"/><circle cx="398.7" cy="205" r="3"/><circle cx="424.3" cy="207.8" r="3"/><circle cx="431.2" cy="209.5" r="3"/><circle cx="404" cy="210" r="3"/><circle cx="411.7" cy="210" r="3"/><circle cx="423.3" cy="210.8" r="3"/><circle cx="405.3" cy="213" r="3"/><circle cx="410.8" cy="213.3" r="3"/><circle cx="422.2" cy="213.8" r="3"/><circle cx="434.3" cy="215" r="3"/><circle cx="454.2" cy="212.8" r="3"/><circle cx="395.8" cy="214.2" r="3"/><circle cx="418" cy="220.5" r="3"/><circle cx="399.7" cy="221.3" r="3"/><circle cx="402.5" cy="223.7" r="3"/><circle cx="415.8" cy="224.5" r="3"/><circle cx="431.2" cy="223.7" r="3"/><circle cx="408.8" cy="226.3" r="3"/><circle cx="396" cy="223.7" r="3"/><circle cx="401.7" cy="227.5" r="3"/><circle cx="437.8" cy="232.5" r="3"/><circle cx="398.7" cy="230.5" r="3"/><circle cx="404.5" cy="232.5" r="3"/><circle cx="428" cy="238.8" r="3"/><circle cx="437" cy="240" r="3"/><circle cx="442" cy="238.7" r="3"/><circle cx="460.2" cy="238.3" r="3"/><circle cx="466.2" cy="245.3" r="3"/><circle cx="432.8" cy="249.2" r="3"/><circle cx="436.7" cy="253.3" r="3"/><circle cx="456.3" cy="252.5" r="3"/><circle cx="462" cy="257" r="3"/><circle cx="446.3" cy="257.3" r="3"/><circle cx="432" cy="260.2" r="3"/><circle cx="420" cy="257.2" r="3"/><circle cx="417.2" cy="260.8" r="3"/><circle cx="423.7" cy="264.2" r="3"/><circle cx="426.3" cy="264.2" r="3"/><circle cx="440.8" cy="268.3" r="3"/><circle cx="454.3" cy="266.2" r="3"/><circle cx="452.2" cy="270.8" r="3"/><circle cx="453.8" cy="274.5" r="3"/><circle cx="489.2" cy="274.2" r="3"/><circle cx="425.5" cy="274" r="3"/><circle cx="421.2" cy="278" r="3"/><circle cx="427" cy="279.5" r="3"/><circle cx="448.3" cy="279.5" r="3"/><circle cx="463.8" cy="282.7" r="3"/><circle cx="457.2" cy="285" r="3"/><circle cx="416.3" cy="286.2" r="3"/><circle cx="474.7" cy="291.7" r="3"/><circle cx="431.2" cy="300.5" r="3"/><circle cx="411.7" cy="245.8" r="3"/><circle cx="411.7" cy="250" r="3"/><circle cx="417.8" cy="240.8" r="3"/><circle cx="420" cy="243.7" r="3"/><circle cx="409.2" cy="240.8" r="3"/><circle cx="414.2" cy="240.8" r="3"/><circle cx="408.3" cy="256.7" r="3"/><circle cx="412.5" cy="259.2" r="3"/><circle cx="408.3" cy="264.2" r="3"/><circle cx="403.3" cy="256.7" r="3"/><circle cx="400.8" cy="262.5" r="3"/><circle cx="403.3" cy="268.3" r="3"/><circle cx="399.2" cy="270.8" r="3"/><circle cx="405.8" cy="274.2" r="3"/><circle cx="407" cy="278.3" r="3"/><circle cx="396.7" cy="277.2" r="3"/><circle cx="403.3" cy="281.7" r="3"/><circle cx="399.2" cy="250" r="3"/><circle cx="402.5" cy="252.5" r="3"/><circle cx="397.5" cy="255.8" r="3"/><circle cx="395.8" cy="265" r="3"/><circle cx="402.5" cy="239.2" r="3"/><circle cx="398.3" cy="235" r="3"/><circle cx="314.2" cy="328.8" r="3"/><circle cx="329.2" cy="323" r="3"/><circle cx="320.5" cy="317.8" r="3"/><circle cx="304.5" cy="316.7" r="3"/><circle cx="311.7" cy="319.2" r="3"/><circle cx="314.2" cy="318.8" r="3"/><circle cx="310" cy="314.2" r="3"/><circle cx="331.3" cy="312.2" r="3"/><circle cx="336.2" cy="310" r="3"/><circle cx="349.2" cy="310" r="3"/><circle cx="351.7" cy="306.7" r="3"/><circle cx="351.3" cy="318.7" r="3"/><circle cx="351.3" cy="321.7" r="3"/><circle cx="362.5" cy="317.8" r="3"/><circle cx="362.5" cy="312.5" r="3"/><circle cx="362.5" cy="303.7" r="3"/><circle cx="371.2" cy="301.3" r="3"/><circle cx="372.5" cy="312.5" r="3"/><circle cx="376.2" cy="314.5" r="3"/><circle cx="387.2" cy="309.7" r="3"/><circle cx="378.3" cy="297" r="3"/><circle cx="359.2" cy="297" r="3"/><circle cx="364.2" cy="295.8" r="3"/><circle cx="363.7" cy="291.7" r="3"/><circle cx="389.5" cy="285.3" r="3"/><circle cx="376.2" cy="285.3" r="3"/><circle cx="351.7" cy="301.7" r="3"/><circle cx="345.8" cy="300" r="3"/><circle cx="87.4" cy="297.4" r="3"/><circle cx="185" cy="252.6" r="3"/><circle cx="196.4" cy="267.6" r="3"/><circle cx="198.4" cy="271" r="3"/><circle cx="196.4" cy="276.6" r="3"/><circle cx="189.6" cy="278" r="3"/><circle cx="181" cy="279.4" r="3"/><circle cx="179" cy="286.4" r="3"/><circle cx="166" cy="289.4" r="3"/><circle cx="173.6" cy="291.4" r="3"/><circle cx="199.4" cy="283.6" r="3"/><circle cx="201" cy="289.4" r="3"/><circle cx="193" cy="290.4" r="3"/><circle cx="191" cy="294" r="3"/><circle cx="196.6" cy="294" r="3"/><circle cx="189" cy="300.6" r="3"/><circle cx="182.6" cy="302.4" r="3"/><circle cx="203" cy="278" r="3"/><circle cx="204" cy="292.6" r="3"/><circle cx="203" cy="301" r="3"/><circle cx="196" cy="304" r="3"/><circle cx="175" cy="339" r="3"/><circle cx="164" cy="323.6" r="3"/><circle cx="180.6" cy="327.4" r="3"/><circle cx="189.6" cy="328" r="3"/><circle cx="205.6" cy="332" r="3"/><circle cx="196.4" cy="320.4" r="3"/><circle cx="173" cy="318.6" r="3"/><circle cx="176.6" cy="318" r="3"/><circle cx="180" cy="317" r="3"/><circle cx="182.4" cy="312" r="3"/><circle cx="188" cy="311" r="3"/><circle cx="191.4" cy="306" r="3"/><circle cx="200.4" cy="307.6" r="3"/><circle cx="204" cy="316.6" r="3"/><circle cx="205.6" cy="314.6" r="3"/><circle cx="210" cy="319" r="3"/><circle cx="213" cy="316" r="3"/><circle cx="217" cy="322" r="3"/><circle cx="220" cy="320.6" r="3"/><circle cx="224" cy="318.4" r="3"/><circle cx="217.4" cy="327.4" r="3"/><circle cx="222" cy="329.4" r="3"/><circle cx="229.4" cy="324.6" r="3"/><circle cx="216.6" cy="311" r="3"/><circle cx="280" cy="322.6" r="3"/><circle cx="289.4" cy="317.4" r="3"/><circle cx="236" cy="317" r="3"/><circle cx="241" cy="315" r="3"/><circle cx="249.4" cy="317" r="3"/><circle cx="257" cy="317.6" r="3"/><circle cx="261" cy="317.6" r="3"/><circle cx="268" cy="317.4" r="3"/><circle cx="276" cy="316" r="3"/><circle cx="281" cy="320" r="3"/><circle cx="216" cy="236" r="3"/><circle cx="230.6" cy="243.4" r="3"/><circle cx="242" cy="232.6" r="3"/><circle cx="255.2" cy="227" r="3"/><circle cx="251" cy="247" r="3"/><circle cx="262.4" cy="243" r="3"/><circle cx="261.4" cy="251.6" r="3"/><circle cx="275.6" cy="235.6" r="3"/><circle cx="281.6" cy="234.6" r="3"/><circle cx="282.4" cy="227" r="3"/><circle cx="285" cy="226" r="3"/><circle cx="296.6" cy="226" r="3"/><circle cx="293" cy="231.4" r="3"/><circle cx="295" cy="234.6" r="3"/><circle cx="303.6" cy="229.4" r="3"/><circle cx="308.6" cy="221.4" r="3"/><circle cx="313" cy="224" r="3"/><circle cx="272" cy="246" r="3"/><circle cx="281" cy="243" r="3"/><circle cx="250" cy="257" r="3"/><circle cx="227" cy="261.6" r="3"/><circle cx="221.4" cy="263" r="3"/><circle cx="235" cy="264" r="3"/><circle cx="233" cy="266.6" r="3"/><circle cx="236" cy="269.4" r="3"/><circle cx="224" cy="269.4" r="3"/><circle cx="222" cy="273.4" r="3"/><circle cx="207" cy="276" r="3"/><circle cx="212" cy="276.4" r="3"/><circle cx="207" cy="285" r="3"/><circle cx="218.6" cy="284" r="3"/><circle cx="198" cy="292" r="3"/><circle cx="213" cy="291" r="3"/><circle cx="379.6" cy="160" r="3"/><circle cx="350.6" cy="174.4" r="3"/><circle cx="335" cy="180" r="3"/><circle cx="330" cy="183" r="3"/><circle cx="377" cy="181" r="3"/><circle cx="383" cy="180.6" r="3"/><circle cx="390.6" cy="186" r="3"/><circle cx="343" cy="190" r="3"/><circle cx="346" cy="192" r="3"/><circle cx="331.4" cy="191" r="3"/><circle cx="324" cy="195" r="3"/><circle cx="328.4" cy="196" r="3"/><circle cx="366" cy="192" r="3"/><circle cx="375.4" cy="191" r="3"/><circle cx="380" cy="192.6" r="3"/><circle cx="385.6" cy="195" r="3"/><circle cx="335" cy="199" r="3"/><circle cx="344" cy="197" r="3"/><circle cx="350" cy="197.6" r="3"/><circle cx="353.6" cy="198" r="3"/><circle cx="339" cy="202" r="3"/><circle cx="360" cy="202" r="3"/><circle cx="371" cy="200" r="3"/><circle cx="373" cy="202" r="3"/><circle cx="383" cy="200" r="3"/><circle cx="392" cy="201" r="3"/><circle cx="404" cy="200" r="3"/><circle cx="292" cy="204.4" r="3"/><circle cx="295.4" cy="208" r="3"/><circle cx="323" cy="207.6" r="3"/><circle cx="325.6" cy="207.6" r="3"/><circle cx="332.6" cy="207.6" r="3"/><circle cx="338" cy="206" r="3"/><circle cx="348" cy="205" r="3"/><circle cx="355" cy="207" r="3"/><circle cx="364" cy="205" r="3"/><circle cx="378" cy="205" r="3"/><circle cx="386" cy="208" r="3"/><circle cx="309.4" cy="212" r="3"/><circle cx="314" cy="214" r="3"/><circle cx="321" cy="214" r="3"/><circle cx="343" cy="212" r="3"/><circle cx="359" cy="213" r="3"/><circle cx="367" cy="212" r="3"/><circle cx="382" cy="209" r="3"/><circle cx="394" cy="214" r="3"/><circle cx="374" cy="218" r="3"/><circle cx="365" cy="221" r="3"/><circle cx="316" cy="218" r="3"/><circle cx="331" cy="217" r="3"/><circle cx="338" cy="215" r="3"/><circle cx="394" cy="218" r="3"/><circle cx="408" cy="214" r="3"/><circle cx="409" cy="305.4" r="3"/><circle cx="455.9" cy="212.2" r="3"/><circle cx="460.6" cy="272.2" r="3"/><circle cx="461.1" cy="272.5" r="3"/></g>
<clipPath id="pc"><rect x="87" y="50" width="402.3" height="289.6"/></clipPath><line x1="95" y1="342" x2="489.3" y2="208.3" stroke="#1f78b4" stroke-width="1.85" clip-path="url(#pc)"/>
<line x1="505.3" y1="232" x2="517.7" y2="232" stroke="#1f78b4" stroke-width="1.5"/>
<text x="521.6" y="235.3" font-size="10.2" fill="#666">R² = 0.342</text>
</svg>
</body></html>
